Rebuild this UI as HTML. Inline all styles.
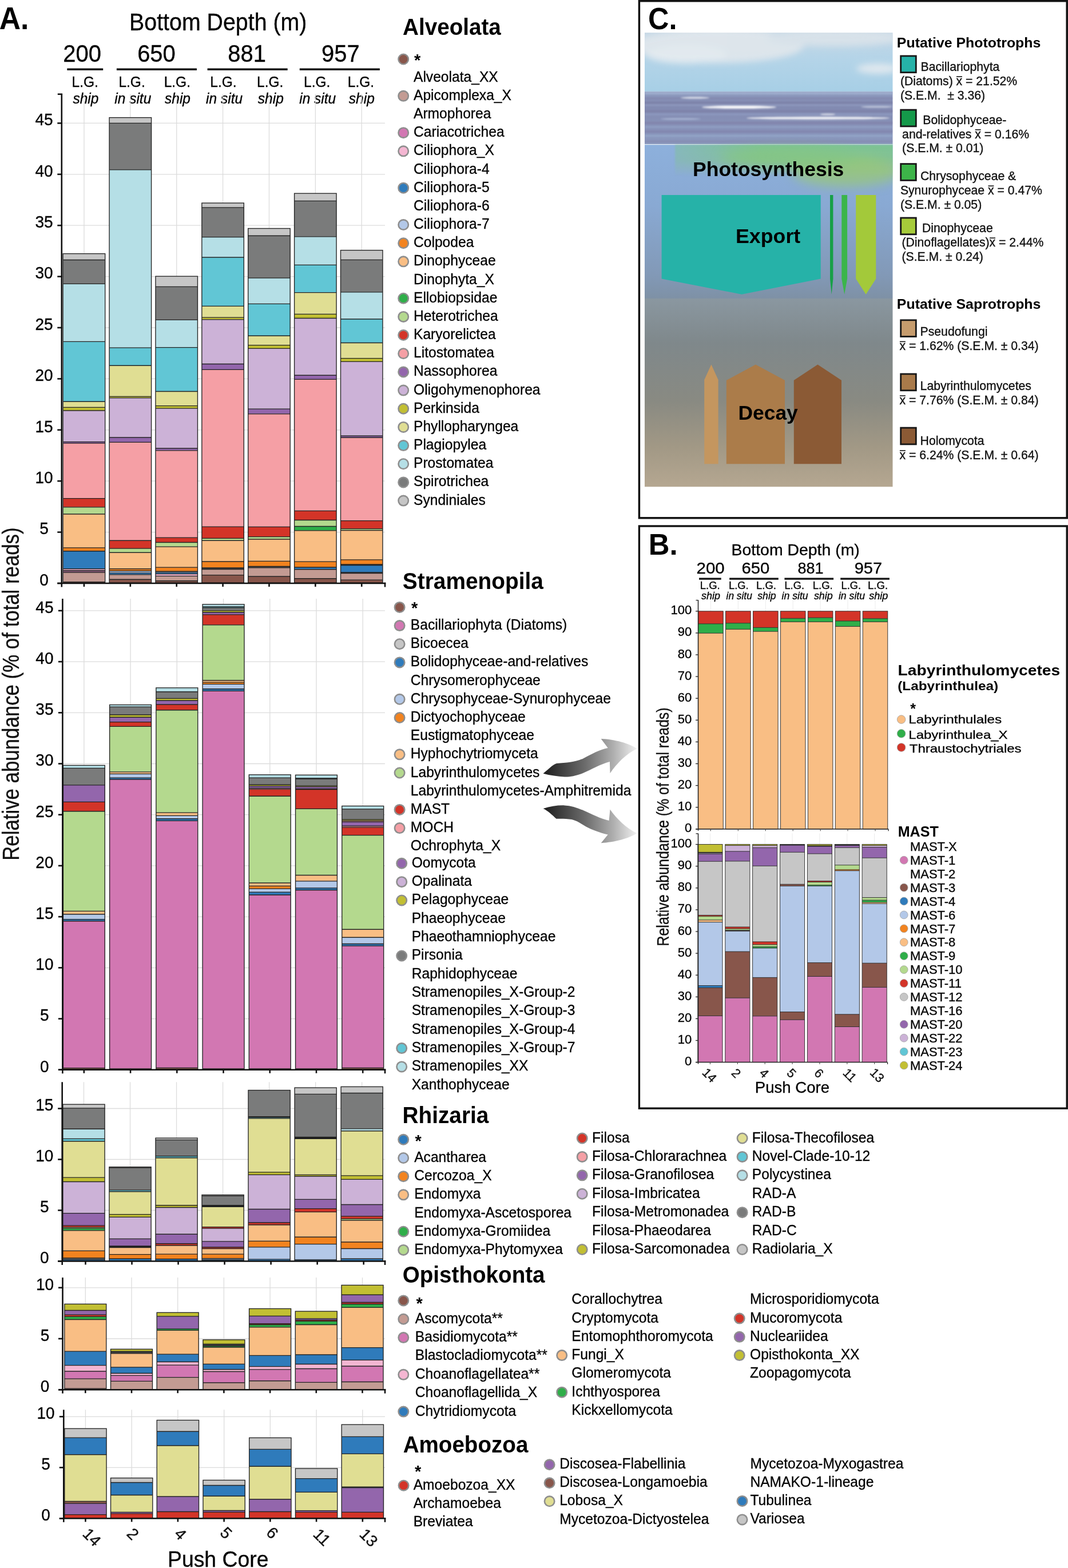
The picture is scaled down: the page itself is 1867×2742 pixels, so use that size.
<!DOCTYPE html><html><head><meta charset="utf-8"><title>Figure</title><style>html,body{margin:0;padding:0;background:#fff}svg{display:block}text{font-family:"Liberation Sans",Arial,Helvetica,sans-serif;stroke:#111;stroke-width:0.35px}text[font-weight="bold"]{stroke:none}</style></head><body><svg width="1867" height="2742" viewBox="0 0 1867 2742"><rect width="1867" height="2742" fill="#fff"/><text x="-1.29" y="50.6" font-size="55.75" font-weight="bold" textLength="51.71" lengthAdjust="spacingAndGlyphs">A.</text>
<text x="226.05" y="53.1" font-size="41.68" textLength="310.36" lengthAdjust="spacingAndGlyphs">Bottom Depth (m)</text>
<text x="143.6" y="108" font-size="41.68" text-anchor="middle" textLength="66.74" lengthAdjust="spacingAndGlyphs">200</text>
<text x="273.5" y="108" font-size="41.68" text-anchor="middle" textLength="66.74" lengthAdjust="spacingAndGlyphs">650</text>
<text x="431.7" y="108" font-size="41.68" text-anchor="middle" textLength="66.74" lengthAdjust="spacingAndGlyphs">881</text>
<text x="595.3" y="108" font-size="41.68" text-anchor="middle" textLength="66.74" lengthAdjust="spacingAndGlyphs">957</text>
<line x1="117.3" y1="121.2" x2="180.2" y2="121.2" stroke="#111" stroke-width="3.4"/>
<line x1="203.9" y1="121.2" x2="344" y2="121.2" stroke="#111" stroke-width="3.4"/>
<line x1="362.6" y1="121.2" x2="502.7" y2="121.2" stroke="#111" stroke-width="3.4"/>
<line x1="523.8" y1="121.2" x2="663.9" y2="121.2" stroke="#111" stroke-width="3.4"/>
<text x="148.7" y="152.4" font-size="25.53" text-anchor="middle" textLength="46.3" lengthAdjust="spacingAndGlyphs">L.G.</text>
<text x="230.6" y="152.4" font-size="25.53" text-anchor="middle" textLength="46.3" lengthAdjust="spacingAndGlyphs">L.G.</text>
<text x="309.8" y="152.4" font-size="25.53" text-anchor="middle" textLength="46.3" lengthAdjust="spacingAndGlyphs">L.G.</text>
<text x="390.5" y="152.4" font-size="25.53" text-anchor="middle" textLength="46.3" lengthAdjust="spacingAndGlyphs">L.G.</text>
<text x="472.2" y="152.4" font-size="25.53" text-anchor="middle" textLength="46.3" lengthAdjust="spacingAndGlyphs">L.G.</text>
<text x="554.2" y="152.4" font-size="25.53" text-anchor="middle" textLength="46.3" lengthAdjust="spacingAndGlyphs">L.G.</text>
<text x="630.9" y="152.4" font-size="25.53" text-anchor="middle" textLength="46.3" lengthAdjust="spacingAndGlyphs">L.G.</text>
<text x="149.9" y="180.8" font-size="25.53" text-anchor="middle" font-style="italic" textLength="44.95" lengthAdjust="spacingAndGlyphs">ship</text>
<text x="232.3" y="180.8" font-size="25.53" text-anchor="middle" font-style="italic" textLength="64" lengthAdjust="spacingAndGlyphs">in situ</text>
<text x="310.5" y="180.8" font-size="25.53" text-anchor="middle" font-style="italic" textLength="44.95" lengthAdjust="spacingAndGlyphs">ship</text>
<text x="392.1" y="180.8" font-size="25.53" text-anchor="middle" font-style="italic" textLength="64" lengthAdjust="spacingAndGlyphs">in situ</text>
<text x="473.3" y="180.8" font-size="25.53" text-anchor="middle" font-style="italic" textLength="44.95" lengthAdjust="spacingAndGlyphs">ship</text>
<text x="555.2" y="180.8" font-size="25.53" text-anchor="middle" font-style="italic" textLength="64" lengthAdjust="spacingAndGlyphs">in situ</text>
<text x="632.3" y="180.8" font-size="25.53" text-anchor="middle" font-style="italic" textLength="44.95" lengthAdjust="spacingAndGlyphs">ship</text>
<line x1="107.8" y1="930.6" x2="673" y2="930.6" stroke="#dcdcdc" stroke-width="1.3"/>
<line x1="107.8" y1="841.2" x2="673" y2="841.2" stroke="#dcdcdc" stroke-width="1.3"/>
<line x1="107.8" y1="751.8" x2="673" y2="751.8" stroke="#dcdcdc" stroke-width="1.3"/>
<line x1="107.8" y1="662.4" x2="673" y2="662.4" stroke="#dcdcdc" stroke-width="1.3"/>
<line x1="107.8" y1="573" x2="673" y2="573" stroke="#dcdcdc" stroke-width="1.3"/>
<line x1="107.8" y1="483.6" x2="673" y2="483.6" stroke="#dcdcdc" stroke-width="1.3"/>
<line x1="107.8" y1="394.2" x2="673" y2="394.2" stroke="#dcdcdc" stroke-width="1.3"/>
<line x1="107.8" y1="304.8" x2="673" y2="304.8" stroke="#dcdcdc" stroke-width="1.3"/>
<line x1="107.8" y1="215.4" x2="673" y2="215.4" stroke="#dcdcdc" stroke-width="1.3"/>
<line x1="146.95" y1="164.4" x2="146.95" y2="1020" stroke="#dcdcdc" stroke-width="1.3"/>
<line x1="227.83" y1="164.4" x2="227.83" y2="1020" stroke="#dcdcdc" stroke-width="1.3"/>
<line x1="308.71" y1="164.4" x2="308.71" y2="1020" stroke="#dcdcdc" stroke-width="1.3"/>
<line x1="389.59" y1="164.4" x2="389.59" y2="1020" stroke="#dcdcdc" stroke-width="1.3"/>
<line x1="470.47" y1="164.4" x2="470.47" y2="1020" stroke="#dcdcdc" stroke-width="1.3"/>
<line x1="551.35" y1="164.4" x2="551.35" y2="1020" stroke="#dcdcdc" stroke-width="1.3"/>
<line x1="632.23" y1="164.4" x2="632.23" y2="1020" stroke="#dcdcdc" stroke-width="1.3"/>
<g>
<rect x="110.2" y="443.6" width="73.5" height="10.87" fill="#c6c6c6"/>
<rect x="110.2" y="454.47" width="73.5" height="41.89" fill="#7a7b7b"/>
<rect x="110.2" y="496.36" width="73.5" height="101.04" fill="#b5dfe6"/>
<rect x="110.2" y="597.4" width="73.5" height="104.85" fill="#61c6d5"/>
<rect x="110.2" y="702.25" width="73.5" height="10.15" fill="#e0de93"/>
<rect x="110.2" y="712.4" width="73.5" height="5.59" fill="#c2bf33"/>
<rect x="110.2" y="717.99" width="73.5" height="54.58" fill="#ccb2d7"/>
<rect x="110.2" y="772.57" width="73.5" height="2.54" fill="#9366ac"/>
<rect x="110.2" y="775.11" width="73.5" height="96.47" fill="#f59fa5"/>
<rect x="110.2" y="871.58" width="73.5" height="15.23" fill="#d33428"/>
<rect x="110.2" y="886.81" width="73.5" height="12.19" fill="#b4d98e"/>
<rect x="110.2" y="899" width="73.5" height="58.9" fill="#f9be84"/>
<rect x="110.2" y="957.9" width="73.5" height="5.84" fill="#f2831f"/>
<rect x="110.2" y="963.74" width="73.5" height="30.97" fill="#2f7bbb"/>
<rect x="110.2" y="994.71" width="73.5" height="3.05" fill="#f4b6d2"/>
<rect x="110.2" y="997.76" width="73.5" height="3.3" fill="#8a5a78"/>
<rect x="110.2" y="1001.06" width="73.5" height="16.5" fill="#c39b93"/>
<rect x="110.2" y="1017.56" width="73.5" height="1.64" fill="#88564b"/>
<line x1="110.2" y1="454.47" x2="183.7" y2="454.47" stroke="#242424" stroke-width="1.35"/>
<line x1="110.2" y1="496.36" x2="183.7" y2="496.36" stroke="#242424" stroke-width="1.35"/>
<line x1="110.2" y1="597.4" x2="183.7" y2="597.4" stroke="#242424" stroke-width="1.35"/>
<line x1="110.2" y1="702.25" x2="183.7" y2="702.25" stroke="#242424" stroke-width="1.35"/>
<line x1="110.2" y1="712.4" x2="183.7" y2="712.4" stroke="#242424" stroke-width="1.35"/>
<line x1="110.2" y1="717.99" x2="183.7" y2="717.99" stroke="#242424" stroke-width="1.35"/>
<line x1="110.2" y1="772.57" x2="183.7" y2="772.57" stroke="#242424" stroke-width="1.35"/>
<line x1="110.2" y1="775.11" x2="183.7" y2="775.11" stroke="#242424" stroke-width="1.35"/>
<line x1="110.2" y1="871.58" x2="183.7" y2="871.58" stroke="#242424" stroke-width="1.35"/>
<line x1="110.2" y1="886.81" x2="183.7" y2="886.81" stroke="#242424" stroke-width="1.35"/>
<line x1="110.2" y1="899" x2="183.7" y2="899" stroke="#242424" stroke-width="1.35"/>
<line x1="110.2" y1="957.9" x2="183.7" y2="957.9" stroke="#242424" stroke-width="1.35"/>
<line x1="110.2" y1="963.74" x2="183.7" y2="963.74" stroke="#242424" stroke-width="1.35"/>
<line x1="110.2" y1="994.71" x2="183.7" y2="994.71" stroke="#242424" stroke-width="1.35"/>
<line x1="110.2" y1="997.76" x2="183.7" y2="997.76" stroke="#242424" stroke-width="1.35"/>
<line x1="110.2" y1="1001.06" x2="183.7" y2="1001.06" stroke="#242424" stroke-width="1.35"/>
<line x1="110.2" y1="1017.56" x2="183.7" y2="1017.56" stroke="#242424" stroke-width="1.35"/>
<rect x="110.2" y="443.6" width="73.5" height="575.6" fill="none" stroke="#242424" stroke-width="1.35"/>
</g>
<g>
<rect x="191.08" y="205.6" width="73.5" height="9.8" fill="#c6c6c6"/>
<rect x="191.08" y="215.4" width="73.5" height="81.5" fill="#7a7b7b"/>
<rect x="191.08" y="296.9" width="73.5" height="311.16" fill="#b5dfe6"/>
<rect x="191.08" y="608.06" width="73.5" height="31.23" fill="#61c6d5"/>
<rect x="191.08" y="639.29" width="73.5" height="54.07" fill="#e0de93"/>
<rect x="191.08" y="693.36" width="73.5" height="2.54" fill="#c2bf33"/>
<rect x="191.08" y="695.9" width="73.5" height="69.05" fill="#ccb2d7"/>
<rect x="191.08" y="764.96" width="73.5" height="8.38" fill="#9366ac"/>
<rect x="191.08" y="773.33" width="73.5" height="171.87" fill="#f59fa5"/>
<rect x="191.08" y="945.2" width="73.5" height="13.96" fill="#d33428"/>
<rect x="191.08" y="959.17" width="73.5" height="7.11" fill="#b4d98e"/>
<rect x="191.08" y="966.28" width="73.5" height="28.43" fill="#f9be84"/>
<rect x="191.08" y="994.71" width="73.5" height="3.81" fill="#f2831f"/>
<rect x="191.08" y="998.52" width="73.5" height="3.3" fill="#b3c8e8"/>
<rect x="191.08" y="1001.82" width="73.5" height="3.05" fill="#2f7bbb"/>
<rect x="191.08" y="1004.86" width="73.5" height="8.38" fill="#c39b93"/>
<rect x="191.08" y="1013.24" width="73.5" height="5.96" fill="#88564b"/>
<line x1="191.08" y1="215.4" x2="264.58" y2="215.4" stroke="#242424" stroke-width="1.35"/>
<line x1="191.08" y1="296.9" x2="264.58" y2="296.9" stroke="#242424" stroke-width="1.35"/>
<line x1="191.08" y1="608.06" x2="264.58" y2="608.06" stroke="#242424" stroke-width="1.35"/>
<line x1="191.08" y1="639.29" x2="264.58" y2="639.29" stroke="#242424" stroke-width="1.35"/>
<line x1="191.08" y1="693.36" x2="264.58" y2="693.36" stroke="#242424" stroke-width="1.35"/>
<line x1="191.08" y1="695.9" x2="264.58" y2="695.9" stroke="#242424" stroke-width="1.35"/>
<line x1="191.08" y1="764.96" x2="264.58" y2="764.96" stroke="#242424" stroke-width="1.35"/>
<line x1="191.08" y1="773.33" x2="264.58" y2="773.33" stroke="#242424" stroke-width="1.35"/>
<line x1="191.08" y1="945.2" x2="264.58" y2="945.2" stroke="#242424" stroke-width="1.35"/>
<line x1="191.08" y1="959.17" x2="264.58" y2="959.17" stroke="#242424" stroke-width="1.35"/>
<line x1="191.08" y1="966.28" x2="264.58" y2="966.28" stroke="#242424" stroke-width="1.35"/>
<line x1="191.08" y1="994.71" x2="264.58" y2="994.71" stroke="#242424" stroke-width="1.35"/>
<line x1="191.08" y1="998.52" x2="264.58" y2="998.52" stroke="#242424" stroke-width="1.35"/>
<line x1="191.08" y1="1001.82" x2="264.58" y2="1001.82" stroke="#242424" stroke-width="1.35"/>
<line x1="191.08" y1="1004.86" x2="264.58" y2="1004.86" stroke="#242424" stroke-width="1.35"/>
<line x1="191.08" y1="1013.24" x2="264.58" y2="1013.24" stroke="#242424" stroke-width="1.35"/>
<rect x="191.08" y="205.6" width="73.5" height="813.6" fill="none" stroke="#242424" stroke-width="1.35"/>
</g>
<g>
<rect x="271.96" y="483.16" width="73.5" height="18.28" fill="#c6c6c6"/>
<rect x="271.96" y="501.44" width="73.5" height="57.88" fill="#7a7b7b"/>
<rect x="271.96" y="559.32" width="73.5" height="48.24" fill="#b5dfe6"/>
<rect x="271.96" y="607.56" width="73.5" height="76.92" fill="#61c6d5"/>
<rect x="271.96" y="684.48" width="73.5" height="25.13" fill="#e0de93"/>
<rect x="271.96" y="709.61" width="73.5" height="4.57" fill="#c2bf33"/>
<rect x="271.96" y="714.18" width="73.5" height="69.81" fill="#ccb2d7"/>
<rect x="271.96" y="784" width="73.5" height="3.81" fill="#9366ac"/>
<rect x="271.96" y="787.8" width="73.5" height="152.32" fill="#f59fa5"/>
<rect x="271.96" y="940.13" width="73.5" height="8.38" fill="#d33428"/>
<rect x="271.96" y="948.5" width="73.5" height="7.62" fill="#b4d98e"/>
<rect x="271.96" y="956.12" width="73.5" height="36.05" fill="#f9be84"/>
<rect x="271.96" y="992.17" width="73.5" height="7.11" fill="#f2831f"/>
<rect x="271.96" y="999.28" width="73.5" height="1.78" fill="#b3c8e8"/>
<rect x="271.96" y="1001.06" width="73.5" height="2.54" fill="#2f7bbb"/>
<rect x="271.96" y="1003.59" width="73.5" height="3.81" fill="#f4b6d2"/>
<rect x="271.96" y="1007.4" width="73.5" height="8.38" fill="#c39b93"/>
<rect x="271.96" y="1015.78" width="73.5" height="3.42" fill="#88564b"/>
<line x1="271.96" y1="501.44" x2="345.46" y2="501.44" stroke="#242424" stroke-width="1.35"/>
<line x1="271.96" y1="559.32" x2="345.46" y2="559.32" stroke="#242424" stroke-width="1.35"/>
<line x1="271.96" y1="607.56" x2="345.46" y2="607.56" stroke="#242424" stroke-width="1.35"/>
<line x1="271.96" y1="684.48" x2="345.46" y2="684.48" stroke="#242424" stroke-width="1.35"/>
<line x1="271.96" y1="709.61" x2="345.46" y2="709.61" stroke="#242424" stroke-width="1.35"/>
<line x1="271.96" y1="714.18" x2="345.46" y2="714.18" stroke="#242424" stroke-width="1.35"/>
<line x1="271.96" y1="784" x2="345.46" y2="784" stroke="#242424" stroke-width="1.35"/>
<line x1="271.96" y1="787.8" x2="345.46" y2="787.8" stroke="#242424" stroke-width="1.35"/>
<line x1="271.96" y1="940.13" x2="345.46" y2="940.13" stroke="#242424" stroke-width="1.35"/>
<line x1="271.96" y1="948.5" x2="345.46" y2="948.5" stroke="#242424" stroke-width="1.35"/>
<line x1="271.96" y1="956.12" x2="345.46" y2="956.12" stroke="#242424" stroke-width="1.35"/>
<line x1="271.96" y1="992.17" x2="345.46" y2="992.17" stroke="#242424" stroke-width="1.35"/>
<line x1="271.96" y1="999.28" x2="345.46" y2="999.28" stroke="#242424" stroke-width="1.35"/>
<line x1="271.96" y1="1001.06" x2="345.46" y2="1001.06" stroke="#242424" stroke-width="1.35"/>
<line x1="271.96" y1="1003.59" x2="345.46" y2="1003.59" stroke="#242424" stroke-width="1.35"/>
<line x1="271.96" y1="1007.4" x2="345.46" y2="1007.4" stroke="#242424" stroke-width="1.35"/>
<line x1="271.96" y1="1015.78" x2="345.46" y2="1015.78" stroke="#242424" stroke-width="1.35"/>
<rect x="271.96" y="483.16" width="73.5" height="536.04" fill="none" stroke="#242424" stroke-width="1.35"/>
</g>
<g>
<rect x="352.84" y="355" width="73.5" height="7.9" fill="#c6c6c6"/>
<rect x="352.84" y="362.9" width="73.5" height="51.7" fill="#7a7b7b"/>
<rect x="352.84" y="414.6" width="73.5" height="35.4" fill="#b5dfe6"/>
<rect x="352.84" y="450" width="73.5" height="85.4" fill="#61c6d5"/>
<rect x="352.84" y="535.4" width="73.5" height="19.7" fill="#e0de93"/>
<rect x="352.84" y="555.1" width="73.5" height="3.7" fill="#c2bf33"/>
<rect x="352.84" y="558.8" width="73.5" height="77.7" fill="#ccb2d7"/>
<rect x="352.84" y="636.5" width="73.5" height="9.8" fill="#9366ac"/>
<rect x="352.84" y="646.3" width="73.5" height="274.8" fill="#f59fa5"/>
<rect x="352.84" y="921.1" width="73.5" height="20.3" fill="#d33428"/>
<rect x="352.84" y="941.4" width="73.5" height="3.8" fill="#b4d98e"/>
<rect x="352.84" y="945.2" width="73.5" height="36.8" fill="#f9be84"/>
<rect x="352.84" y="982" width="73.5" height="10.9" fill="#f2831f"/>
<rect x="352.84" y="992.9" width="73.5" height="2.6" fill="#3a3a3a"/>
<rect x="352.84" y="995.5" width="73.5" height="10.1" fill="#c39b93"/>
<rect x="352.84" y="1005.6" width="73.5" height="13.6" fill="#88564b"/>
<line x1="352.84" y1="362.9" x2="426.34" y2="362.9" stroke="#242424" stroke-width="1.35"/>
<line x1="352.84" y1="414.6" x2="426.34" y2="414.6" stroke="#242424" stroke-width="1.35"/>
<line x1="352.84" y1="450" x2="426.34" y2="450" stroke="#242424" stroke-width="1.35"/>
<line x1="352.84" y1="535.4" x2="426.34" y2="535.4" stroke="#242424" stroke-width="1.35"/>
<line x1="352.84" y1="555.1" x2="426.34" y2="555.1" stroke="#242424" stroke-width="1.35"/>
<line x1="352.84" y1="558.8" x2="426.34" y2="558.8" stroke="#242424" stroke-width="1.35"/>
<line x1="352.84" y1="636.5" x2="426.34" y2="636.5" stroke="#242424" stroke-width="1.35"/>
<line x1="352.84" y1="646.3" x2="426.34" y2="646.3" stroke="#242424" stroke-width="1.35"/>
<line x1="352.84" y1="921.1" x2="426.34" y2="921.1" stroke="#242424" stroke-width="1.35"/>
<line x1="352.84" y1="941.4" x2="426.34" y2="941.4" stroke="#242424" stroke-width="1.35"/>
<line x1="352.84" y1="945.2" x2="426.34" y2="945.2" stroke="#242424" stroke-width="1.35"/>
<line x1="352.84" y1="982" x2="426.34" y2="982" stroke="#242424" stroke-width="1.35"/>
<line x1="352.84" y1="992.9" x2="426.34" y2="992.9" stroke="#242424" stroke-width="1.35"/>
<line x1="352.84" y1="995.5" x2="426.34" y2="995.5" stroke="#242424" stroke-width="1.35"/>
<line x1="352.84" y1="1005.6" x2="426.34" y2="1005.6" stroke="#242424" stroke-width="1.35"/>
<rect x="352.84" y="355" width="73.5" height="664.2" fill="none" stroke="#242424" stroke-width="1.35"/>
</g>
<g>
<rect x="433.72" y="399.5" width="73.5" height="12.7" fill="#c6c6c6"/>
<rect x="433.72" y="412.2" width="73.5" height="73.9" fill="#7a7b7b"/>
<rect x="433.72" y="486.1" width="73.5" height="45.2" fill="#b5dfe6"/>
<rect x="433.72" y="531.3" width="73.5" height="55.9" fill="#61c6d5"/>
<rect x="433.72" y="587.2" width="73.5" height="16.4" fill="#e0de93"/>
<rect x="433.72" y="603.6" width="73.5" height="5.8" fill="#c2bf33"/>
<rect x="433.72" y="609.4" width="73.5" height="105.7" fill="#ccb2d7"/>
<rect x="433.72" y="715.1" width="73.5" height="8.7" fill="#9366ac"/>
<rect x="433.72" y="723.8" width="73.5" height="197.5" fill="#f59fa5"/>
<rect x="433.72" y="921.3" width="73.5" height="17.3" fill="#d33428"/>
<rect x="433.72" y="938.6" width="73.5" height="4.4" fill="#b4d98e"/>
<rect x="433.72" y="943" width="73.5" height="38.3" fill="#f9be84"/>
<rect x="433.72" y="981.3" width="73.5" height="9" fill="#f2831f"/>
<rect x="433.72" y="990.3" width="73.5" height="2.5" fill="#3a3a3a"/>
<rect x="433.72" y="992.8" width="73.5" height="15.2" fill="#c39b93"/>
<rect x="433.72" y="1008" width="73.5" height="11.2" fill="#88564b"/>
<line x1="433.72" y1="412.2" x2="507.22" y2="412.2" stroke="#242424" stroke-width="1.35"/>
<line x1="433.72" y1="486.1" x2="507.22" y2="486.1" stroke="#242424" stroke-width="1.35"/>
<line x1="433.72" y1="531.3" x2="507.22" y2="531.3" stroke="#242424" stroke-width="1.35"/>
<line x1="433.72" y1="587.2" x2="507.22" y2="587.2" stroke="#242424" stroke-width="1.35"/>
<line x1="433.72" y1="603.6" x2="507.22" y2="603.6" stroke="#242424" stroke-width="1.35"/>
<line x1="433.72" y1="609.4" x2="507.22" y2="609.4" stroke="#242424" stroke-width="1.35"/>
<line x1="433.72" y1="715.1" x2="507.22" y2="715.1" stroke="#242424" stroke-width="1.35"/>
<line x1="433.72" y1="723.8" x2="507.22" y2="723.8" stroke="#242424" stroke-width="1.35"/>
<line x1="433.72" y1="921.3" x2="507.22" y2="921.3" stroke="#242424" stroke-width="1.35"/>
<line x1="433.72" y1="938.6" x2="507.22" y2="938.6" stroke="#242424" stroke-width="1.35"/>
<line x1="433.72" y1="943" x2="507.22" y2="943" stroke="#242424" stroke-width="1.35"/>
<line x1="433.72" y1="981.3" x2="507.22" y2="981.3" stroke="#242424" stroke-width="1.35"/>
<line x1="433.72" y1="990.3" x2="507.22" y2="990.3" stroke="#242424" stroke-width="1.35"/>
<line x1="433.72" y1="992.8" x2="507.22" y2="992.8" stroke="#242424" stroke-width="1.35"/>
<line x1="433.72" y1="1008" x2="507.22" y2="1008" stroke="#242424" stroke-width="1.35"/>
<rect x="433.72" y="399.5" width="73.5" height="619.7" fill="none" stroke="#242424" stroke-width="1.35"/>
</g>
<g>
<rect x="514.6" y="338.2" width="73.5" height="13.2" fill="#c6c6c6"/>
<rect x="514.6" y="351.4" width="73.5" height="62.4" fill="#7a7b7b"/>
<rect x="514.6" y="413.8" width="73.5" height="49.6" fill="#b5dfe6"/>
<rect x="514.6" y="463.4" width="73.5" height="48.2" fill="#61c6d5"/>
<rect x="514.6" y="511.6" width="73.5" height="37.8" fill="#e0de93"/>
<rect x="514.6" y="549.4" width="73.5" height="7.1" fill="#c2bf33"/>
<rect x="514.6" y="556.5" width="73.5" height="99.7" fill="#ccb2d7"/>
<rect x="514.6" y="656.2" width="73.5" height="7.1" fill="#9366ac"/>
<rect x="514.6" y="663.3" width="73.5" height="230.1" fill="#f59fa5"/>
<rect x="514.6" y="893.4" width="73.5" height="16.1" fill="#d33428"/>
<rect x="514.6" y="909.5" width="73.5" height="11" fill="#b4d98e"/>
<rect x="514.6" y="920.5" width="73.5" height="7.4" fill="#2fae49"/>
<rect x="514.6" y="927.9" width="73.5" height="54.2" fill="#f9be84"/>
<rect x="514.6" y="982.1" width="73.5" height="9.9" fill="#f2831f"/>
<rect x="514.6" y="992" width="73.5" height="3.7" fill="#2f7bbb"/>
<rect x="514.6" y="995.7" width="73.5" height="16" fill="#c39b93"/>
<rect x="514.6" y="1011.7" width="73.5" height="7.5" fill="#88564b"/>
<line x1="514.6" y1="351.4" x2="588.1" y2="351.4" stroke="#242424" stroke-width="1.35"/>
<line x1="514.6" y1="413.8" x2="588.1" y2="413.8" stroke="#242424" stroke-width="1.35"/>
<line x1="514.6" y1="463.4" x2="588.1" y2="463.4" stroke="#242424" stroke-width="1.35"/>
<line x1="514.6" y1="511.6" x2="588.1" y2="511.6" stroke="#242424" stroke-width="1.35"/>
<line x1="514.6" y1="549.4" x2="588.1" y2="549.4" stroke="#242424" stroke-width="1.35"/>
<line x1="514.6" y1="556.5" x2="588.1" y2="556.5" stroke="#242424" stroke-width="1.35"/>
<line x1="514.6" y1="656.2" x2="588.1" y2="656.2" stroke="#242424" stroke-width="1.35"/>
<line x1="514.6" y1="663.3" x2="588.1" y2="663.3" stroke="#242424" stroke-width="1.35"/>
<line x1="514.6" y1="893.4" x2="588.1" y2="893.4" stroke="#242424" stroke-width="1.35"/>
<line x1="514.6" y1="909.5" x2="588.1" y2="909.5" stroke="#242424" stroke-width="1.35"/>
<line x1="514.6" y1="920.5" x2="588.1" y2="920.5" stroke="#242424" stroke-width="1.35"/>
<line x1="514.6" y1="927.9" x2="588.1" y2="927.9" stroke="#242424" stroke-width="1.35"/>
<line x1="514.6" y1="982.1" x2="588.1" y2="982.1" stroke="#242424" stroke-width="1.35"/>
<line x1="514.6" y1="992" x2="588.1" y2="992" stroke="#242424" stroke-width="1.35"/>
<line x1="514.6" y1="995.7" x2="588.1" y2="995.7" stroke="#242424" stroke-width="1.35"/>
<line x1="514.6" y1="1011.7" x2="588.1" y2="1011.7" stroke="#242424" stroke-width="1.35"/>
<rect x="514.6" y="338.2" width="73.5" height="681" fill="none" stroke="#242424" stroke-width="1.35"/>
</g>
<g>
<rect x="595.48" y="437.6" width="73.5" height="16.8" fill="#c6c6c6"/>
<rect x="595.48" y="454.4" width="73.5" height="56.4" fill="#7a7b7b"/>
<rect x="595.48" y="510.8" width="73.5" height="47.2" fill="#b5dfe6"/>
<rect x="595.48" y="558" width="73.5" height="41.5" fill="#61c6d5"/>
<rect x="595.48" y="599.5" width="73.5" height="27.1" fill="#e0de93"/>
<rect x="595.48" y="626.6" width="73.5" height="5.8" fill="#c2bf33"/>
<rect x="595.48" y="632.4" width="73.5" height="129.8" fill="#ccb2d7"/>
<rect x="595.48" y="762.2" width="73.5" height="3" fill="#9366ac"/>
<rect x="595.48" y="765.2" width="73.5" height="145.4" fill="#f59fa5"/>
<rect x="595.48" y="910.6" width="73.5" height="14" fill="#d33428"/>
<rect x="595.48" y="924.6" width="73.5" height="2.9" fill="#b4d98e"/>
<rect x="595.48" y="927.5" width="73.5" height="51.3" fill="#f9be84"/>
<rect x="595.48" y="978.8" width="73.5" height="8.2" fill="#f2831f"/>
<rect x="595.48" y="987" width="73.5" height="1.6" fill="#3a3a3a"/>
<rect x="595.48" y="988.6" width="73.5" height="12.4" fill="#2f7bbb"/>
<rect x="595.48" y="1001" width="73.5" height="1.6" fill="#3a3a3a"/>
<rect x="595.48" y="1002.6" width="73.5" height="11.5" fill="#c39b93"/>
<rect x="595.48" y="1014.1" width="73.5" height="5.1" fill="#88564b"/>
<line x1="595.48" y1="454.4" x2="668.98" y2="454.4" stroke="#242424" stroke-width="1.35"/>
<line x1="595.48" y1="510.8" x2="668.98" y2="510.8" stroke="#242424" stroke-width="1.35"/>
<line x1="595.48" y1="558" x2="668.98" y2="558" stroke="#242424" stroke-width="1.35"/>
<line x1="595.48" y1="599.5" x2="668.98" y2="599.5" stroke="#242424" stroke-width="1.35"/>
<line x1="595.48" y1="626.6" x2="668.98" y2="626.6" stroke="#242424" stroke-width="1.35"/>
<line x1="595.48" y1="632.4" x2="668.98" y2="632.4" stroke="#242424" stroke-width="1.35"/>
<line x1="595.48" y1="762.2" x2="668.98" y2="762.2" stroke="#242424" stroke-width="1.35"/>
<line x1="595.48" y1="765.2" x2="668.98" y2="765.2" stroke="#242424" stroke-width="1.35"/>
<line x1="595.48" y1="910.6" x2="668.98" y2="910.6" stroke="#242424" stroke-width="1.35"/>
<line x1="595.48" y1="924.6" x2="668.98" y2="924.6" stroke="#242424" stroke-width="1.35"/>
<line x1="595.48" y1="927.5" x2="668.98" y2="927.5" stroke="#242424" stroke-width="1.35"/>
<line x1="595.48" y1="978.8" x2="668.98" y2="978.8" stroke="#242424" stroke-width="1.35"/>
<line x1="595.48" y1="987" x2="668.98" y2="987" stroke="#242424" stroke-width="1.35"/>
<line x1="595.48" y1="988.6" x2="668.98" y2="988.6" stroke="#242424" stroke-width="1.35"/>
<line x1="595.48" y1="1001" x2="668.98" y2="1001" stroke="#242424" stroke-width="1.35"/>
<line x1="595.48" y1="1002.6" x2="668.98" y2="1002.6" stroke="#242424" stroke-width="1.35"/>
<line x1="595.48" y1="1014.1" x2="668.98" y2="1014.1" stroke="#242424" stroke-width="1.35"/>
<rect x="595.48" y="437.6" width="73.5" height="581.6" fill="none" stroke="#242424" stroke-width="1.35"/>
</g>
<line x1="107.8" y1="164.4" x2="107.8" y2="1026.5" stroke="#111" stroke-width="2.6"/>
<line x1="100.8" y1="164.7" x2="109.1" y2="164.7" stroke="#111" stroke-width="2.6"/>
<line x1="100.3" y1="1020" x2="674.3" y2="1020" stroke="#111" stroke-width="2.6"/>
<line x1="673" y1="1018.7" x2="673" y2="1026.5" stroke="#111" stroke-width="2.6"/>
<line x1="146.95" y1="1020" x2="146.95" y2="1026" stroke="#111" stroke-width="2.6"/>
<line x1="227.83" y1="1020" x2="227.83" y2="1026" stroke="#111" stroke-width="2.6"/>
<line x1="308.71" y1="1020" x2="308.71" y2="1026" stroke="#111" stroke-width="2.6"/>
<line x1="389.59" y1="1020" x2="389.59" y2="1026" stroke="#111" stroke-width="2.6"/>
<line x1="470.47" y1="1020" x2="470.47" y2="1026" stroke="#111" stroke-width="2.6"/>
<line x1="551.35" y1="1020" x2="551.35" y2="1026" stroke="#111" stroke-width="2.6"/>
<line x1="632.23" y1="1020" x2="632.23" y2="1026" stroke="#111" stroke-width="2.6"/>
<line x1="100.3" y1="1020" x2="107.8" y2="1020" stroke="#111" stroke-width="2.6"/>
<text x="77" y="1023.8" font-size="29.18" text-anchor="middle" textLength="15.57" lengthAdjust="spacingAndGlyphs">0</text>
<line x1="100.3" y1="930.6" x2="107.8" y2="930.6" stroke="#111" stroke-width="2.6"/>
<text x="77" y="934.4" font-size="29.18" text-anchor="middle" textLength="15.57" lengthAdjust="spacingAndGlyphs">5</text>
<line x1="100.3" y1="841.2" x2="107.8" y2="841.2" stroke="#111" stroke-width="2.6"/>
<text x="77" y="845" font-size="29.18" text-anchor="middle" textLength="31.15" lengthAdjust="spacingAndGlyphs">10</text>
<line x1="100.3" y1="751.8" x2="107.8" y2="751.8" stroke="#111" stroke-width="2.6"/>
<text x="77" y="755.6" font-size="29.18" text-anchor="middle" textLength="31.15" lengthAdjust="spacingAndGlyphs">15</text>
<line x1="100.3" y1="662.4" x2="107.8" y2="662.4" stroke="#111" stroke-width="2.6"/>
<text x="77" y="666.2" font-size="29.18" text-anchor="middle" textLength="31.15" lengthAdjust="spacingAndGlyphs">20</text>
<line x1="100.3" y1="573" x2="107.8" y2="573" stroke="#111" stroke-width="2.6"/>
<text x="77" y="576.8" font-size="29.18" text-anchor="middle" textLength="31.15" lengthAdjust="spacingAndGlyphs">25</text>
<line x1="100.3" y1="483.6" x2="107.8" y2="483.6" stroke="#111" stroke-width="2.6"/>
<text x="77" y="487.4" font-size="29.18" text-anchor="middle" textLength="31.15" lengthAdjust="spacingAndGlyphs">30</text>
<line x1="100.3" y1="394.2" x2="107.8" y2="394.2" stroke="#111" stroke-width="2.6"/>
<text x="77" y="398" font-size="29.18" text-anchor="middle" textLength="31.15" lengthAdjust="spacingAndGlyphs">35</text>
<line x1="100.3" y1="304.8" x2="107.8" y2="304.8" stroke="#111" stroke-width="2.6"/>
<text x="77" y="308.6" font-size="29.18" text-anchor="middle" textLength="31.15" lengthAdjust="spacingAndGlyphs">40</text>
<line x1="100.3" y1="215.4" x2="107.8" y2="215.4" stroke="#111" stroke-width="2.6"/>
<text x="77" y="219.2" font-size="29.18" text-anchor="middle" textLength="31.15" lengthAdjust="spacingAndGlyphs">45</text>
<line x1="109.4" y1="1781.5" x2="673" y2="1781.5" stroke="#dcdcdc" stroke-width="1.3"/>
<line x1="109.4" y1="1692.3" x2="673" y2="1692.3" stroke="#dcdcdc" stroke-width="1.3"/>
<line x1="109.4" y1="1603.1" x2="673" y2="1603.1" stroke="#dcdcdc" stroke-width="1.3"/>
<line x1="109.4" y1="1513.9" x2="673" y2="1513.9" stroke="#dcdcdc" stroke-width="1.3"/>
<line x1="109.4" y1="1424.7" x2="673" y2="1424.7" stroke="#dcdcdc" stroke-width="1.3"/>
<line x1="109.4" y1="1335.5" x2="673" y2="1335.5" stroke="#dcdcdc" stroke-width="1.3"/>
<line x1="109.4" y1="1246.3" x2="673" y2="1246.3" stroke="#dcdcdc" stroke-width="1.3"/>
<line x1="109.4" y1="1157.1" x2="673" y2="1157.1" stroke="#dcdcdc" stroke-width="1.3"/>
<line x1="109.4" y1="1067.9" x2="673" y2="1067.9" stroke="#dcdcdc" stroke-width="1.3"/>
<line x1="146.85" y1="1046.9" x2="146.85" y2="1870.7" stroke="#dcdcdc" stroke-width="1.3"/>
<line x1="228.08" y1="1046.9" x2="228.08" y2="1870.7" stroke="#dcdcdc" stroke-width="1.3"/>
<line x1="309.31" y1="1046.9" x2="309.31" y2="1870.7" stroke="#dcdcdc" stroke-width="1.3"/>
<line x1="390.54" y1="1046.9" x2="390.54" y2="1870.7" stroke="#dcdcdc" stroke-width="1.3"/>
<line x1="471.77" y1="1046.9" x2="471.77" y2="1870.7" stroke="#dcdcdc" stroke-width="1.3"/>
<line x1="553" y1="1046.9" x2="553" y2="1870.7" stroke="#dcdcdc" stroke-width="1.3"/>
<line x1="634.23" y1="1046.9" x2="634.23" y2="1870.7" stroke="#dcdcdc" stroke-width="1.3"/>
<g>
<rect x="110.4" y="1338.4" width="72.9" height="4.9" fill="#b5dfe6"/>
<rect x="110.4" y="1343.3" width="72.9" height="29.6" fill="#7a7b7b"/>
<rect x="110.4" y="1372.9" width="72.9" height="29.4" fill="#9366ac"/>
<rect x="110.4" y="1402.3" width="72.9" height="16.4" fill="#d33428"/>
<rect x="110.4" y="1418.7" width="72.9" height="174.7" fill="#b4d98e"/>
<rect x="110.4" y="1593.4" width="72.9" height="5.3" fill="#f9be84"/>
<rect x="110.4" y="1598.7" width="72.9" height="8.9" fill="#b3c8e8"/>
<rect x="110.4" y="1607.6" width="72.9" height="3.1" fill="#2f7bbb"/>
<rect x="110.4" y="1610.7" width="72.9" height="256.9" fill="#d277b2"/>
<rect x="110.4" y="1867.6" width="72.9" height="2.4" fill="#88564b"/>
<line x1="110.4" y1="1343.3" x2="183.3" y2="1343.3" stroke="#242424" stroke-width="1.35"/>
<line x1="110.4" y1="1372.9" x2="183.3" y2="1372.9" stroke="#242424" stroke-width="1.35"/>
<line x1="110.4" y1="1402.3" x2="183.3" y2="1402.3" stroke="#242424" stroke-width="1.35"/>
<line x1="110.4" y1="1418.7" x2="183.3" y2="1418.7" stroke="#242424" stroke-width="1.35"/>
<line x1="110.4" y1="1593.4" x2="183.3" y2="1593.4" stroke="#242424" stroke-width="1.35"/>
<line x1="110.4" y1="1598.7" x2="183.3" y2="1598.7" stroke="#242424" stroke-width="1.35"/>
<line x1="110.4" y1="1607.6" x2="183.3" y2="1607.6" stroke="#242424" stroke-width="1.35"/>
<line x1="110.4" y1="1610.7" x2="183.3" y2="1610.7" stroke="#242424" stroke-width="1.35"/>
<line x1="110.4" y1="1867.6" x2="183.3" y2="1867.6" stroke="#242424" stroke-width="1.35"/>
<rect x="110.4" y="1338.4" width="72.9" height="531.6" fill="none" stroke="#242424" stroke-width="1.35"/>
</g>
<g>
<rect x="191.63" y="1232.5" width="72.9" height="3.6" fill="#b5dfe6"/>
<rect x="191.63" y="1236.1" width="72.9" height="13.9" fill="#7a7b7b"/>
<rect x="191.63" y="1250" width="72.9" height="4.2" fill="#c2bf33"/>
<rect x="191.63" y="1254.2" width="72.9" height="8.4" fill="#9366ac"/>
<rect x="191.63" y="1262.6" width="72.9" height="7.8" fill="#d33428"/>
<rect x="191.63" y="1270.4" width="72.9" height="79.4" fill="#b4d98e"/>
<rect x="191.63" y="1349.8" width="72.9" height="3.6" fill="#f9be84"/>
<rect x="191.63" y="1353.4" width="72.9" height="6.7" fill="#b3c8e8"/>
<rect x="191.63" y="1360.1" width="72.9" height="2.9" fill="#2f7bbb"/>
<rect x="191.63" y="1363" width="72.9" height="505.8" fill="#d277b2"/>
<rect x="191.63" y="1868.8" width="72.9" height="1.2" fill="#88564b"/>
<line x1="191.63" y1="1236.1" x2="264.53" y2="1236.1" stroke="#242424" stroke-width="1.35"/>
<line x1="191.63" y1="1250" x2="264.53" y2="1250" stroke="#242424" stroke-width="1.35"/>
<line x1="191.63" y1="1254.2" x2="264.53" y2="1254.2" stroke="#242424" stroke-width="1.35"/>
<line x1="191.63" y1="1262.6" x2="264.53" y2="1262.6" stroke="#242424" stroke-width="1.35"/>
<line x1="191.63" y1="1270.4" x2="264.53" y2="1270.4" stroke="#242424" stroke-width="1.35"/>
<line x1="191.63" y1="1349.8" x2="264.53" y2="1349.8" stroke="#242424" stroke-width="1.35"/>
<line x1="191.63" y1="1353.4" x2="264.53" y2="1353.4" stroke="#242424" stroke-width="1.35"/>
<line x1="191.63" y1="1360.1" x2="264.53" y2="1360.1" stroke="#242424" stroke-width="1.35"/>
<line x1="191.63" y1="1363" x2="264.53" y2="1363" stroke="#242424" stroke-width="1.35"/>
<line x1="191.63" y1="1868.8" x2="264.53" y2="1868.8" stroke="#242424" stroke-width="1.35"/>
<rect x="191.63" y="1232.5" width="72.9" height="637.5" fill="none" stroke="#242424" stroke-width="1.35"/>
</g>
<g>
<rect x="272.86" y="1202.8" width="72.9" height="6.9" fill="#b5dfe6"/>
<rect x="272.86" y="1209.7" width="72.9" height="11.7" fill="#7a7b7b"/>
<rect x="272.86" y="1221.4" width="72.9" height="3.6" fill="#c2bf33"/>
<rect x="272.86" y="1225" width="72.9" height="7" fill="#9366ac"/>
<rect x="272.86" y="1232" width="72.9" height="9.7" fill="#d33428"/>
<rect x="272.86" y="1241.7" width="72.9" height="179.4" fill="#b4d98e"/>
<rect x="272.86" y="1421.1" width="72.9" height="5.3" fill="#f9be84"/>
<rect x="272.86" y="1426.4" width="72.9" height="5.3" fill="#b3c8e8"/>
<rect x="272.86" y="1431.7" width="72.9" height="3.6" fill="#2f7bbb"/>
<rect x="272.86" y="1435.3" width="72.9" height="432" fill="#d277b2"/>
<rect x="272.86" y="1867.3" width="72.9" height="2.7" fill="#88564b"/>
<line x1="272.86" y1="1209.7" x2="345.76" y2="1209.7" stroke="#242424" stroke-width="1.35"/>
<line x1="272.86" y1="1221.4" x2="345.76" y2="1221.4" stroke="#242424" stroke-width="1.35"/>
<line x1="272.86" y1="1225" x2="345.76" y2="1225" stroke="#242424" stroke-width="1.35"/>
<line x1="272.86" y1="1232" x2="345.76" y2="1232" stroke="#242424" stroke-width="1.35"/>
<line x1="272.86" y1="1241.7" x2="345.76" y2="1241.7" stroke="#242424" stroke-width="1.35"/>
<line x1="272.86" y1="1421.1" x2="345.76" y2="1421.1" stroke="#242424" stroke-width="1.35"/>
<line x1="272.86" y1="1426.4" x2="345.76" y2="1426.4" stroke="#242424" stroke-width="1.35"/>
<line x1="272.86" y1="1431.7" x2="345.76" y2="1431.7" stroke="#242424" stroke-width="1.35"/>
<line x1="272.86" y1="1435.3" x2="345.76" y2="1435.3" stroke="#242424" stroke-width="1.35"/>
<line x1="272.86" y1="1867.3" x2="345.76" y2="1867.3" stroke="#242424" stroke-width="1.35"/>
<rect x="272.86" y="1202.8" width="72.9" height="667.2" fill="none" stroke="#242424" stroke-width="1.35"/>
</g>
<g>
<rect x="354.09" y="1056.8" width="72.9" height="4.2" fill="#b5dfe6"/>
<rect x="354.09" y="1061" width="72.9" height="1.9" fill="#61c6d5"/>
<rect x="354.09" y="1062.9" width="72.9" height="5" fill="#7a7b7b"/>
<rect x="354.09" y="1067.9" width="72.9" height="2.8" fill="#c2bf33"/>
<rect x="354.09" y="1070.7" width="72.9" height="4.1" fill="#9366ac"/>
<rect x="354.09" y="1074.8" width="72.9" height="18.1" fill="#d33428"/>
<rect x="354.09" y="1092.9" width="72.9" height="96.8" fill="#b4d98e"/>
<rect x="354.09" y="1189.7" width="72.9" height="3.4" fill="#f9be84"/>
<rect x="354.09" y="1193.1" width="72.9" height="3.3" fill="#f2831f"/>
<rect x="354.09" y="1196.4" width="72.9" height="8.3" fill="#b3c8e8"/>
<rect x="354.09" y="1204.7" width="72.9" height="3.6" fill="#2f7bbb"/>
<rect x="354.09" y="1208.3" width="72.9" height="660.5" fill="#d277b2"/>
<rect x="354.09" y="1868.8" width="72.9" height="1.2" fill="#88564b"/>
<line x1="354.09" y1="1061" x2="426.99" y2="1061" stroke="#242424" stroke-width="1.35"/>
<line x1="354.09" y1="1062.9" x2="426.99" y2="1062.9" stroke="#242424" stroke-width="1.35"/>
<line x1="354.09" y1="1067.9" x2="426.99" y2="1067.9" stroke="#242424" stroke-width="1.35"/>
<line x1="354.09" y1="1070.7" x2="426.99" y2="1070.7" stroke="#242424" stroke-width="1.35"/>
<line x1="354.09" y1="1074.8" x2="426.99" y2="1074.8" stroke="#242424" stroke-width="1.35"/>
<line x1="354.09" y1="1092.9" x2="426.99" y2="1092.9" stroke="#242424" stroke-width="1.35"/>
<line x1="354.09" y1="1189.7" x2="426.99" y2="1189.7" stroke="#242424" stroke-width="1.35"/>
<line x1="354.09" y1="1193.1" x2="426.99" y2="1193.1" stroke="#242424" stroke-width="1.35"/>
<line x1="354.09" y1="1196.4" x2="426.99" y2="1196.4" stroke="#242424" stroke-width="1.35"/>
<line x1="354.09" y1="1204.7" x2="426.99" y2="1204.7" stroke="#242424" stroke-width="1.35"/>
<line x1="354.09" y1="1208.3" x2="426.99" y2="1208.3" stroke="#242424" stroke-width="1.35"/>
<line x1="354.09" y1="1868.8" x2="426.99" y2="1868.8" stroke="#242424" stroke-width="1.35"/>
<rect x="354.09" y="1056.8" width="72.9" height="813.2" fill="none" stroke="#242424" stroke-width="1.35"/>
</g>
<g>
<rect x="435.32" y="1354.8" width="72.9" height="5.3" fill="#b5dfe6"/>
<rect x="435.32" y="1360.1" width="72.9" height="12.1" fill="#7a7b7b"/>
<rect x="435.32" y="1372.2" width="72.9" height="2.4" fill="#c2bf33"/>
<rect x="435.32" y="1374.6" width="72.9" height="3.6" fill="#9366ac"/>
<rect x="435.32" y="1378.2" width="72.9" height="1.9" fill="#f59fa5"/>
<rect x="435.32" y="1380.1" width="72.9" height="12.1" fill="#d33428"/>
<rect x="435.32" y="1392.2" width="72.9" height="151.8" fill="#b4d98e"/>
<rect x="435.32" y="1544" width="72.9" height="5.3" fill="#f9be84"/>
<rect x="435.32" y="1549.3" width="72.9" height="4.8" fill="#f2831f"/>
<rect x="435.32" y="1554.1" width="72.9" height="6" fill="#b3c8e8"/>
<rect x="435.32" y="1560.1" width="72.9" height="4.9" fill="#2f7bbb"/>
<rect x="435.32" y="1565" width="72.9" height="303.8" fill="#d277b2"/>
<rect x="435.32" y="1868.8" width="72.9" height="1.2" fill="#88564b"/>
<line x1="435.32" y1="1360.1" x2="508.22" y2="1360.1" stroke="#242424" stroke-width="1.35"/>
<line x1="435.32" y1="1372.2" x2="508.22" y2="1372.2" stroke="#242424" stroke-width="1.35"/>
<line x1="435.32" y1="1374.6" x2="508.22" y2="1374.6" stroke="#242424" stroke-width="1.35"/>
<line x1="435.32" y1="1378.2" x2="508.22" y2="1378.2" stroke="#242424" stroke-width="1.35"/>
<line x1="435.32" y1="1380.1" x2="508.22" y2="1380.1" stroke="#242424" stroke-width="1.35"/>
<line x1="435.32" y1="1392.2" x2="508.22" y2="1392.2" stroke="#242424" stroke-width="1.35"/>
<line x1="435.32" y1="1544" x2="508.22" y2="1544" stroke="#242424" stroke-width="1.35"/>
<line x1="435.32" y1="1549.3" x2="508.22" y2="1549.3" stroke="#242424" stroke-width="1.35"/>
<line x1="435.32" y1="1554.1" x2="508.22" y2="1554.1" stroke="#242424" stroke-width="1.35"/>
<line x1="435.32" y1="1560.1" x2="508.22" y2="1560.1" stroke="#242424" stroke-width="1.35"/>
<line x1="435.32" y1="1565" x2="508.22" y2="1565" stroke="#242424" stroke-width="1.35"/>
<line x1="435.32" y1="1868.8" x2="508.22" y2="1868.8" stroke="#242424" stroke-width="1.35"/>
<rect x="435.32" y="1354.8" width="72.9" height="515.2" fill="none" stroke="#242424" stroke-width="1.35"/>
</g>
<g>
<rect x="516.55" y="1355.3" width="72.9" height="5.5" fill="#b5dfe6"/>
<rect x="516.55" y="1360.8" width="72.9" height="1.2" fill="#1a1a1a"/>
<rect x="516.55" y="1362" width="72.9" height="12.1" fill="#7a7b7b"/>
<rect x="516.55" y="1374.1" width="72.9" height="1.7" fill="#c2bf33"/>
<rect x="516.55" y="1375.8" width="72.9" height="3.6" fill="#9366ac"/>
<rect x="516.55" y="1379.4" width="72.9" height="1.2" fill="#f59fa5"/>
<rect x="516.55" y="1380.6" width="72.9" height="33.7" fill="#d33428"/>
<rect x="516.55" y="1414.3" width="72.9" height="116.2" fill="#b4d98e"/>
<rect x="516.55" y="1530.5" width="72.9" height="10.3" fill="#f9be84"/>
<rect x="516.55" y="1540.8" width="72.9" height="12.1" fill="#b3c8e8"/>
<rect x="516.55" y="1552.9" width="72.9" height="3.6" fill="#2f7bbb"/>
<rect x="516.55" y="1556.5" width="72.9" height="312.3" fill="#d277b2"/>
<rect x="516.55" y="1868.8" width="72.9" height="1.2" fill="#88564b"/>
<line x1="516.55" y1="1360.8" x2="589.45" y2="1360.8" stroke="#242424" stroke-width="1.35"/>
<line x1="516.55" y1="1362" x2="589.45" y2="1362" stroke="#242424" stroke-width="1.35"/>
<line x1="516.55" y1="1374.1" x2="589.45" y2="1374.1" stroke="#242424" stroke-width="1.35"/>
<line x1="516.55" y1="1375.8" x2="589.45" y2="1375.8" stroke="#242424" stroke-width="1.35"/>
<line x1="516.55" y1="1379.4" x2="589.45" y2="1379.4" stroke="#242424" stroke-width="1.35"/>
<line x1="516.55" y1="1380.6" x2="589.45" y2="1380.6" stroke="#242424" stroke-width="1.35"/>
<line x1="516.55" y1="1414.3" x2="589.45" y2="1414.3" stroke="#242424" stroke-width="1.35"/>
<line x1="516.55" y1="1530.5" x2="589.45" y2="1530.5" stroke="#242424" stroke-width="1.35"/>
<line x1="516.55" y1="1540.8" x2="589.45" y2="1540.8" stroke="#242424" stroke-width="1.35"/>
<line x1="516.55" y1="1552.9" x2="589.45" y2="1552.9" stroke="#242424" stroke-width="1.35"/>
<line x1="516.55" y1="1556.5" x2="589.45" y2="1556.5" stroke="#242424" stroke-width="1.35"/>
<line x1="516.55" y1="1868.8" x2="589.45" y2="1868.8" stroke="#242424" stroke-width="1.35"/>
<rect x="516.55" y="1355.3" width="72.9" height="514.7" fill="none" stroke="#242424" stroke-width="1.35"/>
</g>
<g>
<rect x="597.78" y="1409.5" width="72.9" height="5.3" fill="#b5dfe6"/>
<rect x="597.78" y="1414.8" width="72.9" height="18.3" fill="#7a7b7b"/>
<rect x="597.78" y="1433.1" width="72.9" height="2" fill="#c2bf33"/>
<rect x="597.78" y="1435.1" width="72.9" height="2.1" fill="#f59fa5"/>
<rect x="597.78" y="1437.2" width="72.9" height="7.3" fill="#9366ac"/>
<rect x="597.78" y="1444.5" width="72.9" height="2.4" fill="#f59fa5"/>
<rect x="597.78" y="1446.9" width="72.9" height="13.7" fill="#d33428"/>
<rect x="597.78" y="1460.6" width="72.9" height="164.6" fill="#b4d98e"/>
<rect x="597.78" y="1625.2" width="72.9" height="14" fill="#f9be84"/>
<rect x="597.78" y="1639.2" width="72.9" height="11.3" fill="#b3c8e8"/>
<rect x="597.78" y="1650.5" width="72.9" height="3.6" fill="#2f7bbb"/>
<rect x="597.78" y="1654.1" width="72.9" height="213.2" fill="#d277b2"/>
<rect x="597.78" y="1867.3" width="72.9" height="2.7" fill="#88564b"/>
<line x1="597.78" y1="1414.8" x2="670.68" y2="1414.8" stroke="#242424" stroke-width="1.35"/>
<line x1="597.78" y1="1433.1" x2="670.68" y2="1433.1" stroke="#242424" stroke-width="1.35"/>
<line x1="597.78" y1="1435.1" x2="670.68" y2="1435.1" stroke="#242424" stroke-width="1.35"/>
<line x1="597.78" y1="1437.2" x2="670.68" y2="1437.2" stroke="#242424" stroke-width="1.35"/>
<line x1="597.78" y1="1444.5" x2="670.68" y2="1444.5" stroke="#242424" stroke-width="1.35"/>
<line x1="597.78" y1="1446.9" x2="670.68" y2="1446.9" stroke="#242424" stroke-width="1.35"/>
<line x1="597.78" y1="1460.6" x2="670.68" y2="1460.6" stroke="#242424" stroke-width="1.35"/>
<line x1="597.78" y1="1625.2" x2="670.68" y2="1625.2" stroke="#242424" stroke-width="1.35"/>
<line x1="597.78" y1="1639.2" x2="670.68" y2="1639.2" stroke="#242424" stroke-width="1.35"/>
<line x1="597.78" y1="1650.5" x2="670.68" y2="1650.5" stroke="#242424" stroke-width="1.35"/>
<line x1="597.78" y1="1654.1" x2="670.68" y2="1654.1" stroke="#242424" stroke-width="1.35"/>
<line x1="597.78" y1="1867.3" x2="670.68" y2="1867.3" stroke="#242424" stroke-width="1.35"/>
<rect x="597.78" y="1409.5" width="72.9" height="460.5" fill="none" stroke="#242424" stroke-width="1.35"/>
</g>
<line x1="109.4" y1="1046.9" x2="109.4" y2="1877.2" stroke="#111" stroke-width="2.6"/>
<line x1="101.9" y1="1870.7" x2="674.3" y2="1870.7" stroke="#111" stroke-width="2.6"/>
<line x1="673" y1="1869.4" x2="673" y2="1877.2" stroke="#111" stroke-width="2.6"/>
<line x1="146.85" y1="1870.7" x2="146.85" y2="1876.7" stroke="#111" stroke-width="2.6"/>
<line x1="228.08" y1="1870.7" x2="228.08" y2="1876.7" stroke="#111" stroke-width="2.6"/>
<line x1="309.31" y1="1870.7" x2="309.31" y2="1876.7" stroke="#111" stroke-width="2.6"/>
<line x1="390.54" y1="1870.7" x2="390.54" y2="1876.7" stroke="#111" stroke-width="2.6"/>
<line x1="471.77" y1="1870.7" x2="471.77" y2="1876.7" stroke="#111" stroke-width="2.6"/>
<line x1="553" y1="1870.7" x2="553" y2="1876.7" stroke="#111" stroke-width="2.6"/>
<line x1="634.23" y1="1870.7" x2="634.23" y2="1876.7" stroke="#111" stroke-width="2.6"/>
<line x1="101.9" y1="1870.7" x2="109.4" y2="1870.7" stroke="#111" stroke-width="2.6"/>
<text x="77.9" y="1874.5" font-size="29.18" text-anchor="middle" textLength="15.57" lengthAdjust="spacingAndGlyphs">0</text>
<line x1="101.9" y1="1781.5" x2="109.4" y2="1781.5" stroke="#111" stroke-width="2.6"/>
<text x="77.9" y="1785.3" font-size="29.18" text-anchor="middle" textLength="15.57" lengthAdjust="spacingAndGlyphs">5</text>
<line x1="101.9" y1="1692.3" x2="109.4" y2="1692.3" stroke="#111" stroke-width="2.6"/>
<text x="77.9" y="1696.1" font-size="29.18" text-anchor="middle" textLength="31.15" lengthAdjust="spacingAndGlyphs">10</text>
<line x1="101.9" y1="1603.1" x2="109.4" y2="1603.1" stroke="#111" stroke-width="2.6"/>
<text x="77.9" y="1606.9" font-size="29.18" text-anchor="middle" textLength="31.15" lengthAdjust="spacingAndGlyphs">15</text>
<line x1="101.9" y1="1513.9" x2="109.4" y2="1513.9" stroke="#111" stroke-width="2.6"/>
<text x="77.9" y="1517.7" font-size="29.18" text-anchor="middle" textLength="31.15" lengthAdjust="spacingAndGlyphs">20</text>
<line x1="101.9" y1="1424.7" x2="109.4" y2="1424.7" stroke="#111" stroke-width="2.6"/>
<text x="77.9" y="1428.5" font-size="29.18" text-anchor="middle" textLength="31.15" lengthAdjust="spacingAndGlyphs">25</text>
<line x1="101.9" y1="1335.5" x2="109.4" y2="1335.5" stroke="#111" stroke-width="2.6"/>
<text x="77.9" y="1339.3" font-size="29.18" text-anchor="middle" textLength="31.15" lengthAdjust="spacingAndGlyphs">30</text>
<line x1="101.9" y1="1246.3" x2="109.4" y2="1246.3" stroke="#111" stroke-width="2.6"/>
<text x="77.9" y="1250.1" font-size="29.18" text-anchor="middle" textLength="31.15" lengthAdjust="spacingAndGlyphs">35</text>
<line x1="101.9" y1="1157.1" x2="109.4" y2="1157.1" stroke="#111" stroke-width="2.6"/>
<text x="77.9" y="1160.9" font-size="29.18" text-anchor="middle" textLength="31.15" lengthAdjust="spacingAndGlyphs">40</text>
<line x1="101.9" y1="1067.9" x2="109.4" y2="1067.9" stroke="#111" stroke-width="2.6"/>
<text x="77.9" y="1071.7" font-size="29.18" text-anchor="middle" textLength="31.15" lengthAdjust="spacingAndGlyphs">45</text>
<line x1="108.7" y1="2116.5" x2="673" y2="2116.5" stroke="#dcdcdc" stroke-width="1.3"/>
<line x1="108.7" y1="2027.5" x2="673" y2="2027.5" stroke="#dcdcdc" stroke-width="1.3"/>
<line x1="108.7" y1="1938.5" x2="673" y2="1938.5" stroke="#dcdcdc" stroke-width="1.3"/>
<line x1="146.5" y1="1892.2" x2="146.5" y2="2205.5" stroke="#dcdcdc" stroke-width="1.3"/>
<line x1="227.53" y1="1892.2" x2="227.53" y2="2205.5" stroke="#dcdcdc" stroke-width="1.3"/>
<line x1="308.56" y1="1892.2" x2="308.56" y2="2205.5" stroke="#dcdcdc" stroke-width="1.3"/>
<line x1="389.59" y1="1892.2" x2="389.59" y2="2205.5" stroke="#dcdcdc" stroke-width="1.3"/>
<line x1="470.62" y1="1892.2" x2="470.62" y2="2205.5" stroke="#dcdcdc" stroke-width="1.3"/>
<line x1="551.65" y1="1892.2" x2="551.65" y2="2205.5" stroke="#dcdcdc" stroke-width="1.3"/>
<line x1="632.68" y1="1892.2" x2="632.68" y2="2205.5" stroke="#dcdcdc" stroke-width="1.3"/>
<g>
<rect x="109.9" y="1931.2" width="73.2" height="6.6" fill="#c6c6c6"/>
<rect x="109.9" y="1937.8" width="73.2" height="36.4" fill="#7a7b7b"/>
<rect x="109.9" y="1974.2" width="73.2" height="17.2" fill="#b5dfe6"/>
<rect x="109.9" y="1991.4" width="73.2" height="4.3" fill="#61c6d5"/>
<rect x="109.9" y="1995.7" width="73.2" height="63.4" fill="#e0de93"/>
<rect x="109.9" y="2059.1" width="73.2" height="7.4" fill="#c2bf33"/>
<rect x="109.9" y="2066.5" width="73.2" height="55.1" fill="#ccb2d7"/>
<rect x="109.9" y="2121.6" width="73.2" height="21.5" fill="#9366ac"/>
<rect x="109.9" y="2143.1" width="73.2" height="3" fill="#d33428"/>
<rect x="109.9" y="2146.1" width="73.2" height="2" fill="#b4d98e"/>
<rect x="109.9" y="2148.1" width="73.2" height="3.8" fill="#2fae49"/>
<rect x="109.9" y="2151.9" width="73.2" height="35.4" fill="#f9be84"/>
<rect x="109.9" y="2187.3" width="73.2" height="12.7" fill="#f2831f"/>
<rect x="109.9" y="2200" width="73.2" height="2.5" fill="#7a7b7b"/>
<rect x="109.9" y="2202.5" width="73.2" height="2.5" fill="#2f7bbb"/>
<line x1="109.9" y1="1937.8" x2="183.1" y2="1937.8" stroke="#242424" stroke-width="1.35"/>
<line x1="109.9" y1="1974.2" x2="183.1" y2="1974.2" stroke="#242424" stroke-width="1.35"/>
<line x1="109.9" y1="1991.4" x2="183.1" y2="1991.4" stroke="#242424" stroke-width="1.35"/>
<line x1="109.9" y1="1995.7" x2="183.1" y2="1995.7" stroke="#242424" stroke-width="1.35"/>
<line x1="109.9" y1="2059.1" x2="183.1" y2="2059.1" stroke="#242424" stroke-width="1.35"/>
<line x1="109.9" y1="2066.5" x2="183.1" y2="2066.5" stroke="#242424" stroke-width="1.35"/>
<line x1="109.9" y1="2121.6" x2="183.1" y2="2121.6" stroke="#242424" stroke-width="1.35"/>
<line x1="109.9" y1="2143.1" x2="183.1" y2="2143.1" stroke="#242424" stroke-width="1.35"/>
<line x1="109.9" y1="2146.1" x2="183.1" y2="2146.1" stroke="#242424" stroke-width="1.35"/>
<line x1="109.9" y1="2148.1" x2="183.1" y2="2148.1" stroke="#242424" stroke-width="1.35"/>
<line x1="109.9" y1="2151.9" x2="183.1" y2="2151.9" stroke="#242424" stroke-width="1.35"/>
<line x1="109.9" y1="2187.3" x2="183.1" y2="2187.3" stroke="#242424" stroke-width="1.35"/>
<line x1="109.9" y1="2200" x2="183.1" y2="2200" stroke="#242424" stroke-width="1.35"/>
<line x1="109.9" y1="2202.5" x2="183.1" y2="2202.5" stroke="#242424" stroke-width="1.35"/>
<rect x="109.9" y="1931.2" width="73.2" height="273.8" fill="none" stroke="#242424" stroke-width="1.35"/>
</g>
<g>
<rect x="190.93" y="2040.7" width="73.2" height="1.3" fill="#c6c6c6"/>
<rect x="190.93" y="2042" width="73.2" height="39.1" fill="#7a7b7b"/>
<rect x="190.93" y="2081.1" width="73.2" height="2.6" fill="#61c6d5"/>
<rect x="190.93" y="2083.7" width="73.2" height="39.9" fill="#e0de93"/>
<rect x="190.93" y="2123.6" width="73.2" height="4.8" fill="#c2bf33"/>
<rect x="190.93" y="2128.4" width="73.2" height="37.9" fill="#ccb2d7"/>
<rect x="190.93" y="2166.3" width="73.2" height="12.7" fill="#9366ac"/>
<rect x="190.93" y="2179" width="73.2" height="2.5" fill="#1a1a1a"/>
<rect x="190.93" y="2181.5" width="73.2" height="12.1" fill="#f9be84"/>
<rect x="190.93" y="2193.6" width="73.2" height="7.6" fill="#f2831f"/>
<rect x="190.93" y="2201.2" width="73.2" height="3.8" fill="#2f7bbb"/>
<line x1="190.93" y1="2042" x2="264.13" y2="2042" stroke="#242424" stroke-width="1.35"/>
<line x1="190.93" y1="2081.1" x2="264.13" y2="2081.1" stroke="#242424" stroke-width="1.35"/>
<line x1="190.93" y1="2083.7" x2="264.13" y2="2083.7" stroke="#242424" stroke-width="1.35"/>
<line x1="190.93" y1="2123.6" x2="264.13" y2="2123.6" stroke="#242424" stroke-width="1.35"/>
<line x1="190.93" y1="2128.4" x2="264.13" y2="2128.4" stroke="#242424" stroke-width="1.35"/>
<line x1="190.93" y1="2166.3" x2="264.13" y2="2166.3" stroke="#242424" stroke-width="1.35"/>
<line x1="190.93" y1="2179" x2="264.13" y2="2179" stroke="#242424" stroke-width="1.35"/>
<line x1="190.93" y1="2181.5" x2="264.13" y2="2181.5" stroke="#242424" stroke-width="1.35"/>
<line x1="190.93" y1="2193.6" x2="264.13" y2="2193.6" stroke="#242424" stroke-width="1.35"/>
<line x1="190.93" y1="2201.2" x2="264.13" y2="2201.2" stroke="#242424" stroke-width="1.35"/>
<rect x="190.93" y="2040.7" width="73.2" height="164.3" fill="none" stroke="#242424" stroke-width="1.35"/>
</g>
<g>
<rect x="271.96" y="1990.1" width="73.2" height="3.3" fill="#c6c6c6"/>
<rect x="271.96" y="1993.4" width="73.2" height="28.3" fill="#7a7b7b"/>
<rect x="271.96" y="2021.7" width="73.2" height="3" fill="#61c6d5"/>
<rect x="271.96" y="2024.7" width="73.2" height="83" fill="#e0de93"/>
<rect x="271.96" y="2107.7" width="73.2" height="3.8" fill="#c2bf33"/>
<rect x="271.96" y="2111.5" width="73.2" height="46.7" fill="#ccb2d7"/>
<rect x="271.96" y="2158.2" width="73.2" height="16.5" fill="#9366ac"/>
<rect x="271.96" y="2174.7" width="73.2" height="3.3" fill="#d33428"/>
<rect x="271.96" y="2178" width="73.2" height="15.1" fill="#f9be84"/>
<rect x="271.96" y="2193.1" width="73.2" height="8.6" fill="#f2831f"/>
<rect x="271.96" y="2201.7" width="73.2" height="3.3" fill="#2f7bbb"/>
<line x1="271.96" y1="1993.4" x2="345.16" y2="1993.4" stroke="#242424" stroke-width="1.35"/>
<line x1="271.96" y1="2021.7" x2="345.16" y2="2021.7" stroke="#242424" stroke-width="1.35"/>
<line x1="271.96" y1="2024.7" x2="345.16" y2="2024.7" stroke="#242424" stroke-width="1.35"/>
<line x1="271.96" y1="2107.7" x2="345.16" y2="2107.7" stroke="#242424" stroke-width="1.35"/>
<line x1="271.96" y1="2111.5" x2="345.16" y2="2111.5" stroke="#242424" stroke-width="1.35"/>
<line x1="271.96" y1="2158.2" x2="345.16" y2="2158.2" stroke="#242424" stroke-width="1.35"/>
<line x1="271.96" y1="2174.7" x2="345.16" y2="2174.7" stroke="#242424" stroke-width="1.35"/>
<line x1="271.96" y1="2178" x2="345.16" y2="2178" stroke="#242424" stroke-width="1.35"/>
<line x1="271.96" y1="2193.1" x2="345.16" y2="2193.1" stroke="#242424" stroke-width="1.35"/>
<line x1="271.96" y1="2201.7" x2="345.16" y2="2201.7" stroke="#242424" stroke-width="1.35"/>
<rect x="271.96" y="1990.1" width="73.2" height="214.9" fill="none" stroke="#242424" stroke-width="1.35"/>
</g>
<g>
<rect x="352.99" y="2089.5" width="73.2" height="1.7" fill="#c6c6c6"/>
<rect x="352.99" y="2091.2" width="73.2" height="16.5" fill="#7a7b7b"/>
<rect x="352.99" y="2107.7" width="73.2" height="2.5" fill="#1a1a1a"/>
<rect x="352.99" y="2110.2" width="73.2" height="35.4" fill="#e0de93"/>
<rect x="352.99" y="2145.6" width="73.2" height="2.5" fill="#d33428"/>
<rect x="352.99" y="2148.1" width="73.2" height="22.8" fill="#ccb2d7"/>
<rect x="352.99" y="2170.9" width="73.2" height="10.1" fill="#9366ac"/>
<rect x="352.99" y="2181" width="73.2" height="2.5" fill="#d33428"/>
<rect x="352.99" y="2183.5" width="73.2" height="9.6" fill="#f9be84"/>
<rect x="352.99" y="2193.1" width="73.2" height="7.6" fill="#f2831f"/>
<rect x="352.99" y="2200.7" width="73.2" height="2.3" fill="#b3c8e8"/>
<rect x="352.99" y="2203" width="73.2" height="2" fill="#2f7bbb"/>
<line x1="352.99" y1="2091.2" x2="426.19" y2="2091.2" stroke="#242424" stroke-width="1.35"/>
<line x1="352.99" y1="2107.7" x2="426.19" y2="2107.7" stroke="#242424" stroke-width="1.35"/>
<line x1="352.99" y1="2110.2" x2="426.19" y2="2110.2" stroke="#242424" stroke-width="1.35"/>
<line x1="352.99" y1="2145.6" x2="426.19" y2="2145.6" stroke="#242424" stroke-width="1.35"/>
<line x1="352.99" y1="2148.1" x2="426.19" y2="2148.1" stroke="#242424" stroke-width="1.35"/>
<line x1="352.99" y1="2170.9" x2="426.19" y2="2170.9" stroke="#242424" stroke-width="1.35"/>
<line x1="352.99" y1="2181" x2="426.19" y2="2181" stroke="#242424" stroke-width="1.35"/>
<line x1="352.99" y1="2183.5" x2="426.19" y2="2183.5" stroke="#242424" stroke-width="1.35"/>
<line x1="352.99" y1="2193.1" x2="426.19" y2="2193.1" stroke="#242424" stroke-width="1.35"/>
<line x1="352.99" y1="2200.7" x2="426.19" y2="2200.7" stroke="#242424" stroke-width="1.35"/>
<line x1="352.99" y1="2203" x2="426.19" y2="2203" stroke="#242424" stroke-width="1.35"/>
<rect x="352.99" y="2089.5" width="73.2" height="115.5" fill="none" stroke="#242424" stroke-width="1.35"/>
</g>
<g>
<rect x="434.02" y="1906.5" width="73.2" height="46.1" fill="#7a7b7b"/>
<rect x="434.02" y="1952.6" width="73.2" height="1.4" fill="#1a1a1a"/>
<rect x="434.02" y="1954" width="73.2" height="1.8" fill="#61c6d5"/>
<rect x="434.02" y="1955.8" width="73.2" height="94.1" fill="#e0de93"/>
<rect x="434.02" y="2049.9" width="73.2" height="4.4" fill="#c2bf33"/>
<rect x="434.02" y="2054.3" width="73.2" height="60.2" fill="#ccb2d7"/>
<rect x="434.02" y="2114.5" width="73.2" height="23.5" fill="#9366ac"/>
<rect x="434.02" y="2138" width="73.2" height="4" fill="#d33428"/>
<rect x="434.02" y="2142" width="73.2" height="28.3" fill="#f9be84"/>
<rect x="434.02" y="2170.3" width="73.2" height="10.6" fill="#f2831f"/>
<rect x="434.02" y="2180.9" width="73.2" height="21.2" fill="#b3c8e8"/>
<rect x="434.02" y="2202.1" width="73.2" height="2.9" fill="#2f7bbb"/>
<line x1="434.02" y1="1952.6" x2="507.22" y2="1952.6" stroke="#242424" stroke-width="1.35"/>
<line x1="434.02" y1="1954" x2="507.22" y2="1954" stroke="#242424" stroke-width="1.35"/>
<line x1="434.02" y1="1955.8" x2="507.22" y2="1955.8" stroke="#242424" stroke-width="1.35"/>
<line x1="434.02" y1="2049.9" x2="507.22" y2="2049.9" stroke="#242424" stroke-width="1.35"/>
<line x1="434.02" y1="2054.3" x2="507.22" y2="2054.3" stroke="#242424" stroke-width="1.35"/>
<line x1="434.02" y1="2114.5" x2="507.22" y2="2114.5" stroke="#242424" stroke-width="1.35"/>
<line x1="434.02" y1="2138" x2="507.22" y2="2138" stroke="#242424" stroke-width="1.35"/>
<line x1="434.02" y1="2142" x2="507.22" y2="2142" stroke="#242424" stroke-width="1.35"/>
<line x1="434.02" y1="2170.3" x2="507.22" y2="2170.3" stroke="#242424" stroke-width="1.35"/>
<line x1="434.02" y1="2180.9" x2="507.22" y2="2180.9" stroke="#242424" stroke-width="1.35"/>
<line x1="434.02" y1="2202.1" x2="507.22" y2="2202.1" stroke="#242424" stroke-width="1.35"/>
<rect x="434.02" y="1906.5" width="73.2" height="298.5" fill="none" stroke="#242424" stroke-width="1.35"/>
</g>
<g>
<rect x="515.05" y="1902.1" width="73.2" height="11.2" fill="#c6c6c6"/>
<rect x="515.05" y="1913.3" width="73.2" height="75" fill="#7a7b7b"/>
<rect x="515.05" y="1988.3" width="73.2" height="2.9" fill="#1a1a1a"/>
<rect x="515.05" y="1991.2" width="73.2" height="63.1" fill="#e0de93"/>
<rect x="515.05" y="2054.3" width="73.2" height="2.7" fill="#c2bf33"/>
<rect x="515.05" y="2057" width="73.2" height="40.3" fill="#ccb2d7"/>
<rect x="515.05" y="2097.3" width="73.2" height="16.3" fill="#9366ac"/>
<rect x="515.05" y="2113.6" width="73.2" height="5.7" fill="#d33428"/>
<rect x="515.05" y="2119.3" width="73.2" height="43.9" fill="#f9be84"/>
<rect x="515.05" y="2163.2" width="73.2" height="12.4" fill="#f2831f"/>
<rect x="515.05" y="2175.6" width="73.2" height="27.4" fill="#b3c8e8"/>
<rect x="515.05" y="2203" width="73.2" height="2" fill="#2f7bbb"/>
<line x1="515.05" y1="1913.3" x2="588.25" y2="1913.3" stroke="#242424" stroke-width="1.35"/>
<line x1="515.05" y1="1988.3" x2="588.25" y2="1988.3" stroke="#242424" stroke-width="1.35"/>
<line x1="515.05" y1="1991.2" x2="588.25" y2="1991.2" stroke="#242424" stroke-width="1.35"/>
<line x1="515.05" y1="2054.3" x2="588.25" y2="2054.3" stroke="#242424" stroke-width="1.35"/>
<line x1="515.05" y1="2057" x2="588.25" y2="2057" stroke="#242424" stroke-width="1.35"/>
<line x1="515.05" y1="2097.3" x2="588.25" y2="2097.3" stroke="#242424" stroke-width="1.35"/>
<line x1="515.05" y1="2113.6" x2="588.25" y2="2113.6" stroke="#242424" stroke-width="1.35"/>
<line x1="515.05" y1="2119.3" x2="588.25" y2="2119.3" stroke="#242424" stroke-width="1.35"/>
<line x1="515.05" y1="2163.2" x2="588.25" y2="2163.2" stroke="#242424" stroke-width="1.35"/>
<line x1="515.05" y1="2175.6" x2="588.25" y2="2175.6" stroke="#242424" stroke-width="1.35"/>
<line x1="515.05" y1="2203" x2="588.25" y2="2203" stroke="#242424" stroke-width="1.35"/>
<rect x="515.05" y="1902.1" width="73.2" height="302.9" fill="none" stroke="#242424" stroke-width="1.35"/>
</g>
<g>
<rect x="596.08" y="1900.4" width="73.2" height="11.1" fill="#c6c6c6"/>
<rect x="596.08" y="1911.5" width="73.2" height="62.3" fill="#7a7b7b"/>
<rect x="596.08" y="1973.8" width="73.2" height="3.9" fill="#b5dfe6"/>
<rect x="596.08" y="1977.7" width="73.2" height="78.1" fill="#e0de93"/>
<rect x="596.08" y="2055.8" width="73.2" height="6.5" fill="#c2bf33"/>
<rect x="596.08" y="2062.3" width="73.2" height="44.2" fill="#ccb2d7"/>
<rect x="596.08" y="2106.5" width="73.2" height="20.4" fill="#9366ac"/>
<rect x="596.08" y="2126.9" width="73.2" height="4.4" fill="#d33428"/>
<rect x="596.08" y="2131.3" width="73.2" height="2.7" fill="#b4d98e"/>
<rect x="596.08" y="2134" width="73.2" height="38" fill="#f9be84"/>
<rect x="596.08" y="2172" width="73.2" height="11.5" fill="#f2831f"/>
<rect x="596.08" y="2183.5" width="73.2" height="17.7" fill="#b3c8e8"/>
<rect x="596.08" y="2201.2" width="73.2" height="3.8" fill="#2f7bbb"/>
<line x1="596.08" y1="1911.5" x2="669.28" y2="1911.5" stroke="#242424" stroke-width="1.35"/>
<line x1="596.08" y1="1973.8" x2="669.28" y2="1973.8" stroke="#242424" stroke-width="1.35"/>
<line x1="596.08" y1="1977.7" x2="669.28" y2="1977.7" stroke="#242424" stroke-width="1.35"/>
<line x1="596.08" y1="2055.8" x2="669.28" y2="2055.8" stroke="#242424" stroke-width="1.35"/>
<line x1="596.08" y1="2062.3" x2="669.28" y2="2062.3" stroke="#242424" stroke-width="1.35"/>
<line x1="596.08" y1="2106.5" x2="669.28" y2="2106.5" stroke="#242424" stroke-width="1.35"/>
<line x1="596.08" y1="2126.9" x2="669.28" y2="2126.9" stroke="#242424" stroke-width="1.35"/>
<line x1="596.08" y1="2131.3" x2="669.28" y2="2131.3" stroke="#242424" stroke-width="1.35"/>
<line x1="596.08" y1="2134" x2="669.28" y2="2134" stroke="#242424" stroke-width="1.35"/>
<line x1="596.08" y1="2172" x2="669.28" y2="2172" stroke="#242424" stroke-width="1.35"/>
<line x1="596.08" y1="2183.5" x2="669.28" y2="2183.5" stroke="#242424" stroke-width="1.35"/>
<line x1="596.08" y1="2201.2" x2="669.28" y2="2201.2" stroke="#242424" stroke-width="1.35"/>
<rect x="596.08" y="1900.4" width="73.2" height="304.6" fill="none" stroke="#242424" stroke-width="1.35"/>
</g>
<line x1="108.7" y1="1892.2" x2="108.7" y2="2212" stroke="#111" stroke-width="2.6"/>
<line x1="101.2" y1="2205.5" x2="674.3" y2="2205.5" stroke="#111" stroke-width="2.6"/>
<line x1="673" y1="2204.2" x2="673" y2="2212" stroke="#111" stroke-width="2.6"/>
<line x1="149.5" y1="2205.5" x2="149.5" y2="2211.5" stroke="#111" stroke-width="2.6"/>
<line x1="230.53" y1="2205.5" x2="230.53" y2="2211.5" stroke="#111" stroke-width="2.6"/>
<line x1="311.56" y1="2205.5" x2="311.56" y2="2211.5" stroke="#111" stroke-width="2.6"/>
<line x1="392.59" y1="2205.5" x2="392.59" y2="2211.5" stroke="#111" stroke-width="2.6"/>
<line x1="473.62" y1="2205.5" x2="473.62" y2="2211.5" stroke="#111" stroke-width="2.6"/>
<line x1="554.65" y1="2205.5" x2="554.65" y2="2211.5" stroke="#111" stroke-width="2.6"/>
<line x1="635.68" y1="2205.5" x2="635.68" y2="2211.5" stroke="#111" stroke-width="2.6"/>
<line x1="101.2" y1="2205.5" x2="108.7" y2="2205.5" stroke="#111" stroke-width="2.6"/>
<text x="77.7" y="2209.3" font-size="29.18" text-anchor="middle" textLength="15.57" lengthAdjust="spacingAndGlyphs">0</text>
<line x1="101.2" y1="2116.5" x2="108.7" y2="2116.5" stroke="#111" stroke-width="2.6"/>
<text x="77.7" y="2120.3" font-size="29.18" text-anchor="middle" textLength="15.57" lengthAdjust="spacingAndGlyphs">5</text>
<line x1="101.2" y1="2027.5" x2="108.7" y2="2027.5" stroke="#111" stroke-width="2.6"/>
<text x="77.7" y="2031.3" font-size="29.18" text-anchor="middle" textLength="31.15" lengthAdjust="spacingAndGlyphs">10</text>
<line x1="101.2" y1="1938.5" x2="108.7" y2="1938.5" stroke="#111" stroke-width="2.6"/>
<text x="77.7" y="1942.3" font-size="29.18" text-anchor="middle" textLength="31.15" lengthAdjust="spacingAndGlyphs">15</text>
<line x1="109.5" y1="2341" x2="673" y2="2341" stroke="#dcdcdc" stroke-width="1.3"/>
<line x1="109.5" y1="2251.8" x2="673" y2="2251.8" stroke="#dcdcdc" stroke-width="1.3"/>
<line x1="149.3" y1="2234.1" x2="149.3" y2="2430.2" stroke="#dcdcdc" stroke-width="1.3"/>
<line x1="230" y1="2234.1" x2="230" y2="2430.2" stroke="#dcdcdc" stroke-width="1.3"/>
<line x1="310.7" y1="2234.1" x2="310.7" y2="2430.2" stroke="#dcdcdc" stroke-width="1.3"/>
<line x1="391.4" y1="2234.1" x2="391.4" y2="2430.2" stroke="#dcdcdc" stroke-width="1.3"/>
<line x1="472.1" y1="2234.1" x2="472.1" y2="2430.2" stroke="#dcdcdc" stroke-width="1.3"/>
<line x1="552.8" y1="2234.1" x2="552.8" y2="2430.2" stroke="#dcdcdc" stroke-width="1.3"/>
<line x1="633.5" y1="2234.1" x2="633.5" y2="2430.2" stroke="#dcdcdc" stroke-width="1.3"/>
<g>
<rect x="112.8" y="2280.4" width="73" height="11.1" fill="#c2bf33"/>
<rect x="112.8" y="2291.5" width="73" height="7.6" fill="#9366ac"/>
<rect x="112.8" y="2299.1" width="73" height="3.3" fill="#d33428"/>
<rect x="112.8" y="2302.4" width="73" height="5.1" fill="#2fae49"/>
<rect x="112.8" y="2307.5" width="73" height="55.6" fill="#f9be84"/>
<rect x="112.8" y="2363.1" width="73" height="24.5" fill="#2f7bbb"/>
<rect x="112.8" y="2387.6" width="73" height="10.4" fill="#f4b6d2"/>
<rect x="112.8" y="2398" width="73" height="13.1" fill="#d277b2"/>
<rect x="112.8" y="2411.1" width="73" height="17" fill="#c39b93"/>
<rect x="112.8" y="2428.1" width="73" height="1.7" fill="#88564b"/>
<line x1="112.8" y1="2291.5" x2="185.8" y2="2291.5" stroke="#242424" stroke-width="1.35"/>
<line x1="112.8" y1="2299.1" x2="185.8" y2="2299.1" stroke="#242424" stroke-width="1.35"/>
<line x1="112.8" y1="2302.4" x2="185.8" y2="2302.4" stroke="#242424" stroke-width="1.35"/>
<line x1="112.8" y1="2307.5" x2="185.8" y2="2307.5" stroke="#242424" stroke-width="1.35"/>
<line x1="112.8" y1="2363.1" x2="185.8" y2="2363.1" stroke="#242424" stroke-width="1.35"/>
<line x1="112.8" y1="2387.6" x2="185.8" y2="2387.6" stroke="#242424" stroke-width="1.35"/>
<line x1="112.8" y1="2398" x2="185.8" y2="2398" stroke="#242424" stroke-width="1.35"/>
<line x1="112.8" y1="2411.1" x2="185.8" y2="2411.1" stroke="#242424" stroke-width="1.35"/>
<line x1="112.8" y1="2428.1" x2="185.8" y2="2428.1" stroke="#242424" stroke-width="1.35"/>
<rect x="112.8" y="2280.4" width="73" height="149.4" fill="none" stroke="#242424" stroke-width="1.35"/>
</g>
<g>
<rect x="193.5" y="2359.3" width="73" height="3.8" fill="#c2bf33"/>
<rect x="193.5" y="2363.1" width="73" height="3.8" fill="#3a3a3a"/>
<rect x="193.5" y="2366.9" width="73" height="24" fill="#f9be84"/>
<rect x="193.5" y="2390.9" width="73" height="10.6" fill="#2f7bbb"/>
<rect x="193.5" y="2401.5" width="73" height="3.8" fill="#f4b6d2"/>
<rect x="193.5" y="2405.3" width="73" height="10.1" fill="#d277b2"/>
<rect x="193.5" y="2415.4" width="73" height="14.4" fill="#c39b93"/>
<line x1="193.5" y1="2363.1" x2="266.5" y2="2363.1" stroke="#242424" stroke-width="1.35"/>
<line x1="193.5" y1="2366.9" x2="266.5" y2="2366.9" stroke="#242424" stroke-width="1.35"/>
<line x1="193.5" y1="2390.9" x2="266.5" y2="2390.9" stroke="#242424" stroke-width="1.35"/>
<line x1="193.5" y1="2401.5" x2="266.5" y2="2401.5" stroke="#242424" stroke-width="1.35"/>
<line x1="193.5" y1="2405.3" x2="266.5" y2="2405.3" stroke="#242424" stroke-width="1.35"/>
<line x1="193.5" y1="2415.4" x2="266.5" y2="2415.4" stroke="#242424" stroke-width="1.35"/>
<rect x="193.5" y="2359.3" width="73" height="70.5" fill="none" stroke="#242424" stroke-width="1.35"/>
</g>
<g>
<rect x="274.2" y="2295.3" width="73" height="6.6" fill="#c2bf33"/>
<rect x="274.2" y="2301.9" width="73" height="22" fill="#9366ac"/>
<rect x="274.2" y="2323.9" width="73" height="2.5" fill="#2fae49"/>
<rect x="274.2" y="2326.4" width="73" height="41.7" fill="#f9be84"/>
<rect x="274.2" y="2368.1" width="73" height="13.4" fill="#2f7bbb"/>
<rect x="274.2" y="2381.5" width="73" height="5.6" fill="#f4b6d2"/>
<rect x="274.2" y="2387.1" width="73" height="21.5" fill="#d277b2"/>
<rect x="274.2" y="2408.6" width="73" height="21.2" fill="#c39b93"/>
<line x1="274.2" y1="2301.9" x2="347.2" y2="2301.9" stroke="#242424" stroke-width="1.35"/>
<line x1="274.2" y1="2323.9" x2="347.2" y2="2323.9" stroke="#242424" stroke-width="1.35"/>
<line x1="274.2" y1="2326.4" x2="347.2" y2="2326.4" stroke="#242424" stroke-width="1.35"/>
<line x1="274.2" y1="2368.1" x2="347.2" y2="2368.1" stroke="#242424" stroke-width="1.35"/>
<line x1="274.2" y1="2381.5" x2="347.2" y2="2381.5" stroke="#242424" stroke-width="1.35"/>
<line x1="274.2" y1="2387.1" x2="347.2" y2="2387.1" stroke="#242424" stroke-width="1.35"/>
<line x1="274.2" y1="2408.6" x2="347.2" y2="2408.6" stroke="#242424" stroke-width="1.35"/>
<rect x="274.2" y="2295.3" width="73" height="134.5" fill="none" stroke="#242424" stroke-width="1.35"/>
</g>
<g>
<rect x="354.9" y="2342.9" width="73" height="7.5" fill="#c2bf33"/>
<rect x="354.9" y="2350.4" width="73" height="3.3" fill="#3a3a3a"/>
<rect x="354.9" y="2353.7" width="73" height="2.3" fill="#2fae49"/>
<rect x="354.9" y="2356" width="73" height="29.3" fill="#f9be84"/>
<rect x="354.9" y="2385.3" width="73" height="9.4" fill="#2f7bbb"/>
<rect x="354.9" y="2394.7" width="73" height="3.8" fill="#f4b6d2"/>
<rect x="354.9" y="2398.5" width="73" height="19.5" fill="#d277b2"/>
<rect x="354.9" y="2418" width="73" height="11.8" fill="#c39b93"/>
<line x1="354.9" y1="2350.4" x2="427.9" y2="2350.4" stroke="#242424" stroke-width="1.35"/>
<line x1="354.9" y1="2353.7" x2="427.9" y2="2353.7" stroke="#242424" stroke-width="1.35"/>
<line x1="354.9" y1="2356" x2="427.9" y2="2356" stroke="#242424" stroke-width="1.35"/>
<line x1="354.9" y1="2385.3" x2="427.9" y2="2385.3" stroke="#242424" stroke-width="1.35"/>
<line x1="354.9" y1="2394.7" x2="427.9" y2="2394.7" stroke="#242424" stroke-width="1.35"/>
<line x1="354.9" y1="2398.5" x2="427.9" y2="2398.5" stroke="#242424" stroke-width="1.35"/>
<line x1="354.9" y1="2418" x2="427.9" y2="2418" stroke="#242424" stroke-width="1.35"/>
<rect x="354.9" y="2342.9" width="73" height="86.9" fill="none" stroke="#242424" stroke-width="1.35"/>
</g>
<g>
<rect x="435.6" y="2288.5" width="73" height="12.9" fill="#c2bf33"/>
<rect x="435.6" y="2301.4" width="73" height="13.3" fill="#9366ac"/>
<rect x="435.6" y="2314.7" width="73" height="1.8" fill="#d33428"/>
<rect x="435.6" y="2316.5" width="73" height="4.4" fill="#2fae49"/>
<rect x="435.6" y="2320.9" width="73" height="49.5" fill="#f9be84"/>
<rect x="435.6" y="2370.4" width="73" height="19.2" fill="#2f7bbb"/>
<rect x="435.6" y="2389.6" width="73" height="5.3" fill="#f4b6d2"/>
<rect x="435.6" y="2394.9" width="73" height="19.8" fill="#d277b2"/>
<rect x="435.6" y="2414.7" width="73" height="15.1" fill="#c39b93"/>
<line x1="435.6" y1="2301.4" x2="508.6" y2="2301.4" stroke="#242424" stroke-width="1.35"/>
<line x1="435.6" y1="2314.7" x2="508.6" y2="2314.7" stroke="#242424" stroke-width="1.35"/>
<line x1="435.6" y1="2316.5" x2="508.6" y2="2316.5" stroke="#242424" stroke-width="1.35"/>
<line x1="435.6" y1="2320.9" x2="508.6" y2="2320.9" stroke="#242424" stroke-width="1.35"/>
<line x1="435.6" y1="2370.4" x2="508.6" y2="2370.4" stroke="#242424" stroke-width="1.35"/>
<line x1="435.6" y1="2389.6" x2="508.6" y2="2389.6" stroke="#242424" stroke-width="1.35"/>
<line x1="435.6" y1="2394.9" x2="508.6" y2="2394.9" stroke="#242424" stroke-width="1.35"/>
<line x1="435.6" y1="2414.7" x2="508.6" y2="2414.7" stroke="#242424" stroke-width="1.35"/>
<rect x="435.6" y="2288.5" width="73" height="141.3" fill="none" stroke="#242424" stroke-width="1.35"/>
</g>
<g>
<rect x="516.3" y="2293.1" width="73" height="12.7" fill="#c2bf33"/>
<rect x="516.3" y="2305.8" width="73" height="2.7" fill="#9366ac"/>
<rect x="516.3" y="2308.5" width="73" height="1.8" fill="#d33428"/>
<rect x="516.3" y="2310.3" width="73" height="6.2" fill="#2fae49"/>
<rect x="516.3" y="2316.5" width="73" height="52.5" fill="#f9be84"/>
<rect x="516.3" y="2369" width="73" height="16.5" fill="#2f7bbb"/>
<rect x="516.3" y="2385.5" width="73" height="8" fill="#f4b6d2"/>
<rect x="516.3" y="2393.5" width="73" height="23.8" fill="#d277b2"/>
<rect x="516.3" y="2417.3" width="73" height="12.5" fill="#c39b93"/>
<line x1="516.3" y1="2305.8" x2="589.3" y2="2305.8" stroke="#242424" stroke-width="1.35"/>
<line x1="516.3" y1="2308.5" x2="589.3" y2="2308.5" stroke="#242424" stroke-width="1.35"/>
<line x1="516.3" y1="2310.3" x2="589.3" y2="2310.3" stroke="#242424" stroke-width="1.35"/>
<line x1="516.3" y1="2316.5" x2="589.3" y2="2316.5" stroke="#242424" stroke-width="1.35"/>
<line x1="516.3" y1="2369" x2="589.3" y2="2369" stroke="#242424" stroke-width="1.35"/>
<line x1="516.3" y1="2385.5" x2="589.3" y2="2385.5" stroke="#242424" stroke-width="1.35"/>
<line x1="516.3" y1="2393.5" x2="589.3" y2="2393.5" stroke="#242424" stroke-width="1.35"/>
<line x1="516.3" y1="2417.3" x2="589.3" y2="2417.3" stroke="#242424" stroke-width="1.35"/>
<rect x="516.3" y="2293.1" width="73" height="136.7" fill="none" stroke="#242424" stroke-width="1.35"/>
</g>
<g>
<rect x="597" y="2247.4" width="73" height="16.8" fill="#c2bf33"/>
<rect x="597" y="2264.2" width="73" height="13.3" fill="#9366ac"/>
<rect x="597" y="2277.5" width="73" height="3" fill="#d33428"/>
<rect x="597" y="2280.5" width="73" height="5.9" fill="#2fae49"/>
<rect x="597" y="2286.4" width="73" height="70.2" fill="#f9be84"/>
<rect x="597" y="2356.6" width="73" height="21.8" fill="#2f7bbb"/>
<rect x="597" y="2378.4" width="73" height="10.6" fill="#f4b6d2"/>
<rect x="597" y="2389" width="73" height="27.5" fill="#d277b2"/>
<rect x="597" y="2416.5" width="73" height="13.3" fill="#c39b93"/>
<line x1="597" y1="2264.2" x2="670" y2="2264.2" stroke="#242424" stroke-width="1.35"/>
<line x1="597" y1="2277.5" x2="670" y2="2277.5" stroke="#242424" stroke-width="1.35"/>
<line x1="597" y1="2280.5" x2="670" y2="2280.5" stroke="#242424" stroke-width="1.35"/>
<line x1="597" y1="2286.4" x2="670" y2="2286.4" stroke="#242424" stroke-width="1.35"/>
<line x1="597" y1="2356.6" x2="670" y2="2356.6" stroke="#242424" stroke-width="1.35"/>
<line x1="597" y1="2378.4" x2="670" y2="2378.4" stroke="#242424" stroke-width="1.35"/>
<line x1="597" y1="2389" x2="670" y2="2389" stroke="#242424" stroke-width="1.35"/>
<line x1="597" y1="2416.5" x2="670" y2="2416.5" stroke="#242424" stroke-width="1.35"/>
<rect x="597" y="2247.4" width="73" height="182.4" fill="none" stroke="#242424" stroke-width="1.35"/>
</g>
<line x1="109.5" y1="2234.1" x2="109.5" y2="2436.7" stroke="#111" stroke-width="2.6"/>
<line x1="102" y1="2430.2" x2="674.3" y2="2430.2" stroke="#111" stroke-width="2.6"/>
<line x1="673" y1="2428.9" x2="673" y2="2436.7" stroke="#111" stroke-width="2.6"/>
<line x1="149.3" y1="2430.2" x2="149.3" y2="2436.2" stroke="#111" stroke-width="2.6"/>
<line x1="230" y1="2430.2" x2="230" y2="2436.2" stroke="#111" stroke-width="2.6"/>
<line x1="310.7" y1="2430.2" x2="310.7" y2="2436.2" stroke="#111" stroke-width="2.6"/>
<line x1="391.4" y1="2430.2" x2="391.4" y2="2436.2" stroke="#111" stroke-width="2.6"/>
<line x1="472.1" y1="2430.2" x2="472.1" y2="2436.2" stroke="#111" stroke-width="2.6"/>
<line x1="552.8" y1="2430.2" x2="552.8" y2="2436.2" stroke="#111" stroke-width="2.6"/>
<line x1="633.5" y1="2430.2" x2="633.5" y2="2436.2" stroke="#111" stroke-width="2.6"/>
<line x1="102" y1="2430.2" x2="109.5" y2="2430.2" stroke="#111" stroke-width="2.6"/>
<text x="78.5" y="2434" font-size="29.18" text-anchor="middle" textLength="15.57" lengthAdjust="spacingAndGlyphs">0</text>
<line x1="102" y1="2341" x2="109.5" y2="2341" stroke="#111" stroke-width="2.6"/>
<text x="78.5" y="2344.8" font-size="29.18" text-anchor="middle" textLength="15.57" lengthAdjust="spacingAndGlyphs">5</text>
<line x1="102" y1="2251.8" x2="109.5" y2="2251.8" stroke="#111" stroke-width="2.6"/>
<text x="78.5" y="2255.6" font-size="29.18" text-anchor="middle" textLength="31.15" lengthAdjust="spacingAndGlyphs">10</text>
<line x1="111.3" y1="2566.3" x2="673" y2="2566.3" stroke="#dcdcdc" stroke-width="1.3"/>
<line x1="111.3" y1="2477.3" x2="673" y2="2477.3" stroke="#dcdcdc" stroke-width="1.3"/>
<line x1="149.45" y1="2465.3" x2="149.45" y2="2655.3" stroke="#dcdcdc" stroke-width="1.3"/>
<line x1="230.18" y1="2465.3" x2="230.18" y2="2655.3" stroke="#dcdcdc" stroke-width="1.3"/>
<line x1="310.91" y1="2465.3" x2="310.91" y2="2655.3" stroke="#dcdcdc" stroke-width="1.3"/>
<line x1="391.64" y1="2465.3" x2="391.64" y2="2655.3" stroke="#dcdcdc" stroke-width="1.3"/>
<line x1="472.37" y1="2465.3" x2="472.37" y2="2655.3" stroke="#dcdcdc" stroke-width="1.3"/>
<line x1="553.1" y1="2465.3" x2="553.1" y2="2655.3" stroke="#dcdcdc" stroke-width="1.3"/>
<line x1="633.83" y1="2465.3" x2="633.83" y2="2655.3" stroke="#dcdcdc" stroke-width="1.3"/>
<g>
<rect x="112.8" y="2498.2" width="73.3" height="15.9" fill="#c6c6c6"/>
<rect x="112.8" y="2514.1" width="73.3" height="29.6" fill="#2f7bbb"/>
<rect x="112.8" y="2543.7" width="73.3" height="81.6" fill="#e0de93"/>
<rect x="112.8" y="2625.3" width="73.3" height="3.8" fill="#88564b"/>
<rect x="112.8" y="2629.1" width="73.3" height="19.5" fill="#9366ac"/>
<rect x="112.8" y="2648.6" width="73.3" height="6.4" fill="#d33428"/>
<line x1="112.8" y1="2514.1" x2="186.1" y2="2514.1" stroke="#242424" stroke-width="1.35"/>
<line x1="112.8" y1="2543.7" x2="186.1" y2="2543.7" stroke="#242424" stroke-width="1.35"/>
<line x1="112.8" y1="2625.3" x2="186.1" y2="2625.3" stroke="#242424" stroke-width="1.35"/>
<line x1="112.8" y1="2629.1" x2="186.1" y2="2629.1" stroke="#242424" stroke-width="1.35"/>
<line x1="112.8" y1="2648.6" x2="186.1" y2="2648.6" stroke="#242424" stroke-width="1.35"/>
<rect x="112.8" y="2498.2" width="73.3" height="156.8" fill="none" stroke="#242424" stroke-width="1.35"/>
</g>
<g>
<rect x="193.53" y="2584.6" width="73.3" height="7.9" fill="#c6c6c6"/>
<rect x="193.53" y="2592.5" width="73.3" height="22" fill="#2f7bbb"/>
<rect x="193.53" y="2614.5" width="73.3" height="29.8" fill="#e0de93"/>
<rect x="193.53" y="2644.3" width="73.3" height="2.5" fill="#9366ac"/>
<rect x="193.53" y="2646.8" width="73.3" height="8.2" fill="#d33428"/>
<line x1="193.53" y1="2592.5" x2="266.83" y2="2592.5" stroke="#242424" stroke-width="1.35"/>
<line x1="193.53" y1="2614.5" x2="266.83" y2="2614.5" stroke="#242424" stroke-width="1.35"/>
<line x1="193.53" y1="2644.3" x2="266.83" y2="2644.3" stroke="#242424" stroke-width="1.35"/>
<line x1="193.53" y1="2646.8" x2="266.83" y2="2646.8" stroke="#242424" stroke-width="1.35"/>
<rect x="193.53" y="2584.6" width="73.3" height="70.4" fill="none" stroke="#242424" stroke-width="1.35"/>
</g>
<g>
<rect x="274.26" y="2483.5" width="73.3" height="19.7" fill="#c6c6c6"/>
<rect x="274.26" y="2503.2" width="73.3" height="24.8" fill="#2f7bbb"/>
<rect x="274.26" y="2528" width="73.3" height="89" fill="#e0de93"/>
<rect x="274.26" y="2617" width="73.3" height="26.5" fill="#9366ac"/>
<rect x="274.26" y="2643.5" width="73.3" height="11.5" fill="#d33428"/>
<line x1="274.26" y1="2503.2" x2="347.56" y2="2503.2" stroke="#242424" stroke-width="1.35"/>
<line x1="274.26" y1="2528" x2="347.56" y2="2528" stroke="#242424" stroke-width="1.35"/>
<line x1="274.26" y1="2617" x2="347.56" y2="2617" stroke="#242424" stroke-width="1.35"/>
<line x1="274.26" y1="2643.5" x2="347.56" y2="2643.5" stroke="#242424" stroke-width="1.35"/>
<rect x="274.26" y="2483.5" width="73.3" height="171.5" fill="none" stroke="#242424" stroke-width="1.35"/>
</g>
<g>
<rect x="354.99" y="2588.4" width="73.3" height="9.1" fill="#c6c6c6"/>
<rect x="354.99" y="2597.5" width="73.3" height="18.7" fill="#2f7bbb"/>
<rect x="354.99" y="2616.2" width="73.3" height="25.3" fill="#e0de93"/>
<rect x="354.99" y="2641.5" width="73.3" height="2.8" fill="#9366ac"/>
<rect x="354.99" y="2644.3" width="73.3" height="10.7" fill="#d33428"/>
<line x1="354.99" y1="2597.5" x2="428.29" y2="2597.5" stroke="#242424" stroke-width="1.35"/>
<line x1="354.99" y1="2616.2" x2="428.29" y2="2616.2" stroke="#242424" stroke-width="1.35"/>
<line x1="354.99" y1="2641.5" x2="428.29" y2="2641.5" stroke="#242424" stroke-width="1.35"/>
<line x1="354.99" y1="2644.3" x2="428.29" y2="2644.3" stroke="#242424" stroke-width="1.35"/>
<rect x="354.99" y="2588.4" width="73.3" height="66.6" fill="none" stroke="#242424" stroke-width="1.35"/>
</g>
<g>
<rect x="435.72" y="2514.3" width="73.3" height="20" fill="#c6c6c6"/>
<rect x="435.72" y="2534.3" width="73.3" height="29.9" fill="#2f7bbb"/>
<rect x="435.72" y="2564.2" width="73.3" height="57.5" fill="#e0de93"/>
<rect x="435.72" y="2621.7" width="73.3" height="21.8" fill="#9366ac"/>
<rect x="435.72" y="2643.5" width="73.3" height="11.5" fill="#d33428"/>
<line x1="435.72" y1="2534.3" x2="509.02" y2="2534.3" stroke="#242424" stroke-width="1.35"/>
<line x1="435.72" y1="2564.2" x2="509.02" y2="2564.2" stroke="#242424" stroke-width="1.35"/>
<line x1="435.72" y1="2621.7" x2="509.02" y2="2621.7" stroke="#242424" stroke-width="1.35"/>
<line x1="435.72" y1="2643.5" x2="509.02" y2="2643.5" stroke="#242424" stroke-width="1.35"/>
<rect x="435.72" y="2514.3" width="73.3" height="140.7" fill="none" stroke="#242424" stroke-width="1.35"/>
</g>
<g>
<rect x="516.45" y="2568" width="73.3" height="17.6" fill="#c6c6c6"/>
<rect x="516.45" y="2585.6" width="73.3" height="23.8" fill="#2f7bbb"/>
<rect x="516.45" y="2609.4" width="73.3" height="32.2" fill="#e0de93"/>
<rect x="516.45" y="2641.6" width="73.3" height="2.7" fill="#9366ac"/>
<rect x="516.45" y="2644.3" width="73.3" height="10.7" fill="#d33428"/>
<line x1="516.45" y1="2585.6" x2="589.75" y2="2585.6" stroke="#242424" stroke-width="1.35"/>
<line x1="516.45" y1="2609.4" x2="589.75" y2="2609.4" stroke="#242424" stroke-width="1.35"/>
<line x1="516.45" y1="2641.6" x2="589.75" y2="2641.6" stroke="#242424" stroke-width="1.35"/>
<line x1="516.45" y1="2644.3" x2="589.75" y2="2644.3" stroke="#242424" stroke-width="1.35"/>
<rect x="516.45" y="2568" width="73.3" height="87" fill="none" stroke="#242424" stroke-width="1.35"/>
</g>
<g>
<rect x="597.18" y="2491.2" width="73.3" height="21.2" fill="#c6c6c6"/>
<rect x="597.18" y="2512.4" width="73.3" height="30" fill="#2f7bbb"/>
<rect x="597.18" y="2542.4" width="73.3" height="57.8" fill="#e0de93"/>
<rect x="597.18" y="2600.2" width="73.3" height="1.4" fill="#88564b"/>
<rect x="597.18" y="2601.6" width="73.3" height="42.8" fill="#9366ac"/>
<rect x="597.18" y="2644.4" width="73.3" height="10.6" fill="#d33428"/>
<line x1="597.18" y1="2512.4" x2="670.48" y2="2512.4" stroke="#242424" stroke-width="1.35"/>
<line x1="597.18" y1="2542.4" x2="670.48" y2="2542.4" stroke="#242424" stroke-width="1.35"/>
<line x1="597.18" y1="2600.2" x2="670.48" y2="2600.2" stroke="#242424" stroke-width="1.35"/>
<line x1="597.18" y1="2601.6" x2="670.48" y2="2601.6" stroke="#242424" stroke-width="1.35"/>
<line x1="597.18" y1="2644.4" x2="670.48" y2="2644.4" stroke="#242424" stroke-width="1.35"/>
<rect x="597.18" y="2491.2" width="73.3" height="163.8" fill="none" stroke="#242424" stroke-width="1.35"/>
</g>
<line x1="111.3" y1="2465.3" x2="111.3" y2="2661.8" stroke="#111" stroke-width="2.6"/>
<line x1="103.8" y1="2655.3" x2="674.3" y2="2655.3" stroke="#111" stroke-width="2.6"/>
<line x1="673" y1="2654" x2="673" y2="2661.8" stroke="#111" stroke-width="2.6"/>
<line x1="149.45" y1="2655.3" x2="149.45" y2="2661.3" stroke="#111" stroke-width="2.6"/>
<line x1="230.18" y1="2655.3" x2="230.18" y2="2661.3" stroke="#111" stroke-width="2.6"/>
<line x1="310.91" y1="2655.3" x2="310.91" y2="2661.3" stroke="#111" stroke-width="2.6"/>
<line x1="391.64" y1="2655.3" x2="391.64" y2="2661.3" stroke="#111" stroke-width="2.6"/>
<line x1="472.37" y1="2655.3" x2="472.37" y2="2661.3" stroke="#111" stroke-width="2.6"/>
<line x1="553.1" y1="2655.3" x2="553.1" y2="2661.3" stroke="#111" stroke-width="2.6"/>
<line x1="633.83" y1="2655.3" x2="633.83" y2="2661.3" stroke="#111" stroke-width="2.6"/>
<line x1="103.8" y1="2655.3" x2="111.3" y2="2655.3" stroke="#111" stroke-width="2.6"/>
<text x="80" y="2659.1" font-size="29.18" text-anchor="middle" textLength="15.57" lengthAdjust="spacingAndGlyphs">0</text>
<line x1="103.8" y1="2566.3" x2="111.3" y2="2566.3" stroke="#111" stroke-width="2.6"/>
<text x="80" y="2570.1" font-size="29.18" text-anchor="middle" textLength="15.57" lengthAdjust="spacingAndGlyphs">5</text>
<line x1="103.8" y1="2477.3" x2="111.3" y2="2477.3" stroke="#111" stroke-width="2.6"/>
<text x="80" y="2481.1" font-size="29.18" text-anchor="middle" textLength="31.15" lengthAdjust="spacingAndGlyphs">10</text>
<text x="0" y="0" font-size="40" textLength="582.4" lengthAdjust="spacingAndGlyphs" transform="translate(32.6 1504.8) rotate(-90)" fill="#111">Relative abundance (% of total reads)</text>
<text x="160.6" y="2697.8" font-size="28" text-anchor="middle" transform="rotate(45 160.6 2688)" fill="#111">14</text>
<text x="232.4" y="2692.1" font-size="28" text-anchor="middle" transform="rotate(45 232.4 2682.3)" fill="#111">2</text>
<text x="315.6" y="2692.4" font-size="28" text-anchor="middle" transform="rotate(45 315.6 2682.6)" fill="#111">4</text>
<text x="395.4" y="2690.5" font-size="28" text-anchor="middle" transform="rotate(45 395.4 2680.7)" fill="#111">5</text>
<text x="476.3" y="2690.2" font-size="28" text-anchor="middle" transform="rotate(45 476.3 2680.4)" fill="#111">6</text>
<text x="563" y="2697.8" font-size="28" text-anchor="middle" transform="rotate(45 563 2688)" fill="#111">11</text>
<text x="644.8" y="2698.7" font-size="28" text-anchor="middle" transform="rotate(45 644.8 2688.9)" fill="#111">13</text>
<text x="293.01" y="2740.3" font-size="39.6" textLength="176.46" lengthAdjust="spacingAndGlyphs">Push Core</text>
<text x="704.03" y="61.2" font-size="40.33" font-weight="bold" textLength="171.83" lengthAdjust="spacingAndGlyphs">Alveolata</text>
<circle cx="705.2" cy="103.5" r="8.7" fill="#88564b" stroke="#8e8e8e" stroke-width="2.6"/>
<text x="724" y="115" font-size="30.22" font-weight="bold" textLength="11.29" lengthAdjust="spacingAndGlyphs">*</text>
<text x="723" y="142.67" font-size="25.63" textLength="147.7" lengthAdjust="spacingAndGlyphs">Alveolata_XX</text>
<circle cx="705.2" cy="167.84" r="8.7" fill="#c39b93" stroke="#8e8e8e" stroke-width="2.6"/>
<text x="723" y="174.84" font-size="25.63" textLength="170.93" lengthAdjust="spacingAndGlyphs">Apicomplexa_X</text>
<text x="723" y="207.01" font-size="25.63" textLength="135.38" lengthAdjust="spacingAndGlyphs">Armophorea</text>
<circle cx="705.2" cy="232.18" r="8.7" fill="#d277b2" stroke="#8e8e8e" stroke-width="2.6"/>
<text x="723" y="239.18" font-size="25.63" textLength="158.61" lengthAdjust="spacingAndGlyphs">Cariacotrichea</text>
<circle cx="705.2" cy="264.35" r="8.7" fill="#f4b6d2" stroke="#8e8e8e" stroke-width="2.6"/>
<text x="723" y="271.35" font-size="25.63" textLength="140.86" lengthAdjust="spacingAndGlyphs">Ciliophora_X</text>
<text x="723" y="303.52" font-size="25.63" textLength="132.64" lengthAdjust="spacingAndGlyphs">Ciliophora-4</text>
<circle cx="705.2" cy="328.69" r="8.7" fill="#2f7bbb" stroke="#8e8e8e" stroke-width="2.6"/>
<text x="723" y="335.69" font-size="25.63" textLength="132.64" lengthAdjust="spacingAndGlyphs">Ciliophora-5</text>
<text x="723" y="367.86" font-size="25.63" textLength="132.64" lengthAdjust="spacingAndGlyphs">Ciliophora-6</text>
<circle cx="705.2" cy="393.03" r="8.7" fill="#b3c8e8" stroke="#8e8e8e" stroke-width="2.6"/>
<text x="723" y="400.03" font-size="25.63" textLength="132.64" lengthAdjust="spacingAndGlyphs">Ciliophora-7</text>
<circle cx="705.2" cy="425.2" r="8.7" fill="#f2831f" stroke="#8e8e8e" stroke-width="2.6"/>
<text x="723" y="432.2" font-size="25.63" textLength="105.32" lengthAdjust="spacingAndGlyphs">Colpodea</text>
<circle cx="705.2" cy="457.37" r="8.7" fill="#f9be84" stroke="#8e8e8e" stroke-width="2.6"/>
<text x="723" y="464.37" font-size="25.63" textLength="143.6" lengthAdjust="spacingAndGlyphs">Dinophyceae</text>
<text x="723" y="496.54" font-size="25.63" textLength="140.87" lengthAdjust="spacingAndGlyphs">Dinophyta_X</text>
<circle cx="705.2" cy="521.71" r="8.7" fill="#2fae49" stroke="#8e8e8e" stroke-width="2.6"/>
<text x="723" y="528.71" font-size="25.63" textLength="146.35" lengthAdjust="spacingAndGlyphs">Ellobiopsidae</text>
<circle cx="705.2" cy="553.88" r="8.7" fill="#b4d98e" stroke="#8e8e8e" stroke-width="2.6"/>
<text x="723" y="560.88" font-size="25.63" textLength="147.68" lengthAdjust="spacingAndGlyphs">Heterotrichea</text>
<circle cx="705.2" cy="586.05" r="8.7" fill="#d33428" stroke="#8e8e8e" stroke-width="2.6"/>
<text x="723" y="593.05" font-size="25.63" textLength="143.57" lengthAdjust="spacingAndGlyphs">Karyorelictea</text>
<circle cx="705.2" cy="618.22" r="8.7" fill="#f59fa5" stroke="#8e8e8e" stroke-width="2.6"/>
<text x="723" y="625.22" font-size="25.63" textLength="140.85" lengthAdjust="spacingAndGlyphs">Litostomatea</text>
<circle cx="705.2" cy="650.39" r="8.7" fill="#9366ac" stroke="#8e8e8e" stroke-width="2.6"/>
<text x="723" y="657.39" font-size="25.63" textLength="146.33" lengthAdjust="spacingAndGlyphs">Nassophorea</text>
<circle cx="705.2" cy="682.56" r="8.7" fill="#ccb2d7" stroke="#8e8e8e" stroke-width="2.6"/>
<text x="723" y="689.56" font-size="25.63" textLength="221.55" lengthAdjust="spacingAndGlyphs">Oligohymenophorea</text>
<circle cx="705.2" cy="714.73" r="8.7" fill="#c2bf33" stroke="#8e8e8e" stroke-width="2.6"/>
<text x="723" y="721.73" font-size="25.63" textLength="114.86" lengthAdjust="spacingAndGlyphs">Perkinsida</text>
<circle cx="705.2" cy="746.9" r="8.7" fill="#e0de93" stroke="#8e8e8e" stroke-width="2.6"/>
<text x="723" y="753.9" font-size="25.63" textLength="183.27" lengthAdjust="spacingAndGlyphs">Phyllopharyngea</text>
<circle cx="705.2" cy="779.07" r="8.7" fill="#61c6d5" stroke="#8e8e8e" stroke-width="2.6"/>
<text x="723" y="786.07" font-size="25.63" textLength="127.2" lengthAdjust="spacingAndGlyphs">Plagiopylea</text>
<circle cx="705.2" cy="811.24" r="8.7" fill="#b5dfe6" stroke="#8e8e8e" stroke-width="2.6"/>
<text x="723" y="818.24" font-size="25.63" textLength="139.47" lengthAdjust="spacingAndGlyphs">Prostomatea</text>
<circle cx="705.2" cy="843.41" r="8.7" fill="#7a7b7b" stroke="#8e8e8e" stroke-width="2.6"/>
<text x="723" y="850.41" font-size="25.63" textLength="131.27" lengthAdjust="spacingAndGlyphs">Spirotrichea</text>
<circle cx="705.2" cy="875.58" r="8.7" fill="#c6c6c6" stroke="#8e8e8e" stroke-width="2.6"/>
<text x="723" y="882.58" font-size="25.63" textLength="125.82" lengthAdjust="spacingAndGlyphs">Syndiniales</text>
<text x="703.83" y="1030.1" font-size="40.33" font-weight="bold" textLength="246.08" lengthAdjust="spacingAndGlyphs">Stramenopila</text>
<circle cx="698.6" cy="1061.9" r="8.7" fill="#88564b" stroke="#8e8e8e" stroke-width="2.6"/>
<text x="718.9" y="1073" font-size="30.22" font-weight="bold" textLength="11.29" lengthAdjust="spacingAndGlyphs">*</text>
<circle cx="698.6" cy="1094.08" r="8.7" fill="#d277b2" stroke="#8e8e8e" stroke-width="2.6"/>
<text x="717.8" y="1101.08" font-size="25.63" textLength="273.43" lengthAdjust="spacingAndGlyphs">Bacillariophyta (Diatoms)</text>
<circle cx="698.6" cy="1126.26" r="8.7" fill="#c6c6c6" stroke="#8e8e8e" stroke-width="2.6"/>
<text x="717.8" y="1133.26" font-size="25.63" textLength="101.2" lengthAdjust="spacingAndGlyphs">Bicoecea</text>
<circle cx="698.6" cy="1158.44" r="8.7" fill="#2f7bbb" stroke="#8e8e8e" stroke-width="2.6"/>
<text x="717.8" y="1165.44" font-size="25.63" textLength="310.43" lengthAdjust="spacingAndGlyphs">Bolidophyceae-and-relatives</text>
<text x="717.8" y="1197.62" font-size="25.63" textLength="226.98" lengthAdjust="spacingAndGlyphs">Chrysomerophyceae</text>
<circle cx="698.6" cy="1222.8" r="8.7" fill="#b3c8e8" stroke="#8e8e8e" stroke-width="2.6"/>
<text x="717.8" y="1229.8" font-size="25.63" textLength="350.08" lengthAdjust="spacingAndGlyphs">Chrysophyceae-Synurophyceae</text>
<circle cx="698.6" cy="1254.98" r="8.7" fill="#f2831f" stroke="#8e8e8e" stroke-width="2.6"/>
<text x="717.8" y="1261.98" font-size="25.63" textLength="201.02" lengthAdjust="spacingAndGlyphs">Dictyochophyceae</text>
<text x="717.8" y="1294.16" font-size="25.63" textLength="216.07" lengthAdjust="spacingAndGlyphs">Eustigmatophyceae</text>
<circle cx="698.6" cy="1319.34" r="8.7" fill="#f9be84" stroke="#8e8e8e" stroke-width="2.6"/>
<text x="717.8" y="1326.34" font-size="25.63" textLength="222.86" lengthAdjust="spacingAndGlyphs">Hyphochytriomyceta</text>
<circle cx="698.6" cy="1351.52" r="8.7" fill="#b4d98e" stroke="#8e8e8e" stroke-width="2.6"/>
<text x="717.8" y="1358.52" font-size="25.63" textLength="225.62" lengthAdjust="spacingAndGlyphs">Labyrinthulomycetes</text>
<text x="717.8" y="1390.7" font-size="25.63" textLength="385.58" lengthAdjust="spacingAndGlyphs">Labyrinthulomycetes-Amphitremida</text>
<circle cx="698.6" cy="1415.88" r="8.7" fill="#d33428" stroke="#8e8e8e" stroke-width="2.6"/>
<text x="717.8" y="1422.88" font-size="25.63" textLength="68.34" lengthAdjust="spacingAndGlyphs">MAST</text>
<circle cx="698.6" cy="1448.06" r="8.7" fill="#f59fa5" stroke="#8e8e8e" stroke-width="2.6"/>
<text x="717.8" y="1455.06" font-size="25.63" textLength="75.16" lengthAdjust="spacingAndGlyphs">MOCH</text>
<text x="717.8" y="1487.24" font-size="25.63" textLength="157.26" lengthAdjust="spacingAndGlyphs">Ochrophyta_X</text>
<circle cx="702.2" cy="1509.8" r="8.7" fill="#9366ac" stroke="#8e8e8e" stroke-width="2.6"/>
<text x="719.7" y="1516.8" font-size="25.63" textLength="112.11" lengthAdjust="spacingAndGlyphs">Oomycota</text>
<circle cx="702.2" cy="1542.13" r="8.7" fill="#ccb2d7" stroke="#8e8e8e" stroke-width="2.6"/>
<text x="719.7" y="1549.13" font-size="25.63" textLength="105.31" lengthAdjust="spacingAndGlyphs">Opalinata</text>
<circle cx="702.2" cy="1574.46" r="8.7" fill="#c2bf33" stroke="#8e8e8e" stroke-width="2.6"/>
<text x="719.7" y="1581.46" font-size="25.63" textLength="169.61" lengthAdjust="spacingAndGlyphs">Pelagophyceae</text>
<text x="719.7" y="1613.79" font-size="25.63" textLength="164.15" lengthAdjust="spacingAndGlyphs">Phaeophyceae</text>
<text x="719.7" y="1646.12" font-size="25.63" textLength="251.67" lengthAdjust="spacingAndGlyphs">Phaeothamniophyceae</text>
<circle cx="702.2" cy="1671.45" r="8.7" fill="#7a7b7b" stroke="#8e8e8e" stroke-width="2.6"/>
<text x="719.7" y="1678.45" font-size="25.63" textLength="88.88" lengthAdjust="spacingAndGlyphs">Pirsonia</text>
<text x="719.7" y="1710.78" font-size="25.63" textLength="184.65" lengthAdjust="spacingAndGlyphs">Raphidophyceae</text>
<text x="719.7" y="1743.11" font-size="25.63" textLength="285.78" lengthAdjust="spacingAndGlyphs">Stramenopiles_X-Group-2</text>
<text x="719.7" y="1775.44" font-size="25.63" textLength="285.78" lengthAdjust="spacingAndGlyphs">Stramenopiles_X-Group-3</text>
<text x="719.7" y="1807.77" font-size="25.63" textLength="285.78" lengthAdjust="spacingAndGlyphs">Stramenopiles_X-Group-4</text>
<circle cx="702.2" cy="1833.1" r="8.7" fill="#61c6d5" stroke="#8e8e8e" stroke-width="2.6"/>
<text x="719.7" y="1840.1" font-size="25.63" textLength="285.78" lengthAdjust="spacingAndGlyphs">Stramenopiles_X-Group-7</text>
<circle cx="702.2" cy="1865.43" r="8.7" fill="#b5dfe6" stroke="#8e8e8e" stroke-width="2.6"/>
<text x="719.7" y="1872.43" font-size="25.63" textLength="203.75" lengthAdjust="spacingAndGlyphs">Stramenopiles_XX</text>
<text x="719.7" y="1904.76" font-size="25.63" textLength="170.98" lengthAdjust="spacingAndGlyphs">Xanthophyceae</text>
<text x="703.48" y="1963.8" font-size="40.33" font-weight="bold" textLength="150.84" lengthAdjust="spacingAndGlyphs">Rhizaria</text>
<circle cx="705.2" cy="1992.8" r="8.7" fill="#2f7bbb" stroke="#8e8e8e" stroke-width="2.6"/>
<text x="725.6" y="2005" font-size="30.22" font-weight="bold" textLength="11.29" lengthAdjust="spacingAndGlyphs">*</text>
<circle cx="705.2" cy="2024.98" r="8.7" fill="#b3c8e8" stroke="#8e8e8e" stroke-width="2.6"/>
<text x="724.2" y="2031.98" font-size="25.63" textLength="125.83" lengthAdjust="spacingAndGlyphs">Acantharea</text>
<circle cx="705.2" cy="2057.16" r="8.7" fill="#f2831f" stroke="#8e8e8e" stroke-width="2.6"/>
<text x="724.2" y="2064.16" font-size="25.63" textLength="135.38" lengthAdjust="spacingAndGlyphs">Cercozoa_X</text>
<circle cx="705.2" cy="2089.34" r="8.7" fill="#f9be84" stroke="#8e8e8e" stroke-width="2.6"/>
<text x="724.2" y="2096.34" font-size="25.63" textLength="116.23" lengthAdjust="spacingAndGlyphs">Endomyxa</text>
<text x="724.2" y="2128.52" font-size="25.63" textLength="274.85" lengthAdjust="spacingAndGlyphs">Endomyxa-Ascetosporea</text>
<circle cx="705.2" cy="2153.7" r="8.7" fill="#2fae49" stroke="#8e8e8e" stroke-width="2.6"/>
<text x="724.2" y="2160.7" font-size="25.63" textLength="237.9" lengthAdjust="spacingAndGlyphs">Endomyxa-Gromiidea</text>
<circle cx="705.2" cy="2185.88" r="8.7" fill="#b4d98e" stroke="#8e8e8e" stroke-width="2.6"/>
<text x="724.2" y="2192.88" font-size="25.63" textLength="259.79" lengthAdjust="spacingAndGlyphs">Endomyxa-Phytomyxea</text>
<circle cx="1017.7" cy="1990.5" r="8.7" fill="#d33428" stroke="#8e8e8e" stroke-width="2.6"/>
<text x="1035" y="1997.5" font-size="25.63" textLength="65.62" lengthAdjust="spacingAndGlyphs">Filosa</text>
<circle cx="1017.7" cy="2022.92" r="8.7" fill="#f59fa5" stroke="#8e8e8e" stroke-width="2.6"/>
<text x="1035" y="2029.92" font-size="25.63" textLength="235.19" lengthAdjust="spacingAndGlyphs">Filosa-Chlorarachnea</text>
<circle cx="1017.7" cy="2055.34" r="8.7" fill="#9366ac" stroke="#8e8e8e" stroke-width="2.6"/>
<text x="1035" y="2062.34" font-size="25.63" textLength="213.3" lengthAdjust="spacingAndGlyphs">Filosa-Granofilosea</text>
<circle cx="1017.7" cy="2087.76" r="8.7" fill="#ccb2d7" stroke="#8e8e8e" stroke-width="2.6"/>
<text x="1035" y="2094.76" font-size="25.63" textLength="188.66" lengthAdjust="spacingAndGlyphs">Filosa-Imbricatea</text>
<text x="1035" y="2127.18" font-size="25.63" textLength="239.28" lengthAdjust="spacingAndGlyphs">Filosa-Metromonadea</text>
<text x="1035" y="2159.6" font-size="25.63" textLength="207.87" lengthAdjust="spacingAndGlyphs">Filosa-Phaeodarea</text>
<circle cx="1017.7" cy="2185.02" r="8.7" fill="#c2bf33" stroke="#8e8e8e" stroke-width="2.6"/>
<text x="1035" y="2192.02" font-size="25.63" textLength="240.66" lengthAdjust="spacingAndGlyphs">Filosa-Sarcomonadea</text>
<circle cx="1297.6" cy="1990.5" r="8.7" fill="#e0de93" stroke="#8e8e8e" stroke-width="2.6"/>
<text x="1314.8" y="1997.5" font-size="25.63" textLength="213.3" lengthAdjust="spacingAndGlyphs">Filosa-Thecofilosea</text>
<circle cx="1297.6" cy="2022.92" r="8.7" fill="#61c6d5" stroke="#8e8e8e" stroke-width="2.6"/>
<text x="1314.8" y="2029.92" font-size="25.63" textLength="206.48" lengthAdjust="spacingAndGlyphs">Novel-Clade-10-12</text>
<circle cx="1297.6" cy="2055.34" r="8.7" fill="#b5dfe6" stroke="#8e8e8e" stroke-width="2.6"/>
<text x="1314.8" y="2062.34" font-size="25.63" textLength="138.1" lengthAdjust="spacingAndGlyphs">Polycystinea</text>
<text x="1314.8" y="2094.76" font-size="25.63" textLength="76.54" lengthAdjust="spacingAndGlyphs">RAD-A</text>
<circle cx="1297.6" cy="2120.18" r="8.7" fill="#7a7b7b" stroke="#8e8e8e" stroke-width="2.6"/>
<text x="1314.8" y="2127.18" font-size="25.63" textLength="76.54" lengthAdjust="spacingAndGlyphs">RAD-B</text>
<text x="1314.8" y="2159.6" font-size="25.63" textLength="77.9" lengthAdjust="spacingAndGlyphs">RAD-C</text>
<circle cx="1297.6" cy="2185.02" r="8.7" fill="#c6c6c6" stroke="#8e8e8e" stroke-width="2.6"/>
<text x="1314.8" y="2192.02" font-size="25.63" textLength="140.86" lengthAdjust="spacingAndGlyphs">Radiolaria_X</text>
<text x="703.76" y="2242.5" font-size="40.33" font-weight="bold" textLength="248.84" lengthAdjust="spacingAndGlyphs">Opisthokonta</text>
<circle cx="705.3" cy="2274.4" r="8.7" fill="#88564b" stroke="#8e8e8e" stroke-width="2.6"/>
<text x="727.4" y="2288.8" font-size="30.22" font-weight="bold" textLength="11.29" lengthAdjust="spacingAndGlyphs">*</text>
<circle cx="705.3" cy="2306.76" r="8.7" fill="#c39b93" stroke="#8e8e8e" stroke-width="2.6"/>
<text x="725.8" y="2313.76" font-size="25.63" textLength="153.13" lengthAdjust="spacingAndGlyphs">Ascomycota**</text>
<circle cx="705.3" cy="2339.12" r="8.7" fill="#d277b2" stroke="#8e8e8e" stroke-width="2.6"/>
<text x="725.8" y="2346.12" font-size="25.63" textLength="179.12" lengthAdjust="spacingAndGlyphs">Basidiomycota**</text>
<text x="725.8" y="2378.48" font-size="25.63" textLength="231.09" lengthAdjust="spacingAndGlyphs">Blastocladiomycota**</text>
<circle cx="705.3" cy="2403.84" r="8.7" fill="#f4b6d2" stroke="#8e8e8e" stroke-width="2.6"/>
<text x="725.8" y="2410.84" font-size="25.63" textLength="217.48" lengthAdjust="spacingAndGlyphs">Choanoflagellatea**</text>
<text x="725.8" y="2443.2" font-size="25.63" textLength="213.37" lengthAdjust="spacingAndGlyphs">Choanoflagellida_X</text>
<circle cx="705.3" cy="2468.56" r="8.7" fill="#2f7bbb" stroke="#8e8e8e" stroke-width="2.6"/>
<text x="725.8" y="2475.56" font-size="25.63" textLength="176.36" lengthAdjust="spacingAndGlyphs">Chytridiomycota</text>
<text x="999.3" y="2280.3" font-size="25.63" textLength="158.61" lengthAdjust="spacingAndGlyphs">Corallochytrea</text>
<text x="999.3" y="2312.57" font-size="25.63" textLength="151.75" lengthAdjust="spacingAndGlyphs">Cryptomycota</text>
<text x="999.3" y="2344.84" font-size="25.63" textLength="247.51" lengthAdjust="spacingAndGlyphs">Entomophthoromycota</text>
<circle cx="982.2" cy="2370.11" r="8.7" fill="#f9be84" stroke="#8e8e8e" stroke-width="2.6"/>
<text x="999.3" y="2377.11" font-size="25.63" textLength="91.63" lengthAdjust="spacingAndGlyphs">Fungi_X</text>
<text x="999.3" y="2409.38" font-size="25.63" textLength="173.62" lengthAdjust="spacingAndGlyphs">Glomeromycota</text>
<circle cx="982.2" cy="2434.65" r="8.7" fill="#2fae49" stroke="#8e8e8e" stroke-width="2.6"/>
<text x="999.3" y="2441.65" font-size="25.63" textLength="154.53" lengthAdjust="spacingAndGlyphs">Ichthyosporea</text>
<text x="999.3" y="2473.92" font-size="25.63" textLength="176.36" lengthAdjust="spacingAndGlyphs">Kickxellomycota</text>
<text x="1311" y="2280.3" font-size="25.63" textLength="225.58" lengthAdjust="spacingAndGlyphs">Microsporidiomycota</text>
<circle cx="1292.7" cy="2305.57" r="8.7" fill="#d33428" stroke="#8e8e8e" stroke-width="2.6"/>
<text x="1311" y="2312.57" font-size="25.63" textLength="161.32" lengthAdjust="spacingAndGlyphs">Mucoromycota</text>
<circle cx="1292.7" cy="2337.84" r="8.7" fill="#9366ac" stroke="#8e8e8e" stroke-width="2.6"/>
<text x="1311" y="2344.84" font-size="25.63" textLength="136.75" lengthAdjust="spacingAndGlyphs">Nucleariidea</text>
<circle cx="1292.7" cy="2370.11" r="8.7" fill="#c2bf33" stroke="#8e8e8e" stroke-width="2.6"/>
<text x="1311" y="2377.11" font-size="25.63" textLength="191.46" lengthAdjust="spacingAndGlyphs">Opisthokonta_XX</text>
<text x="1311" y="2409.38" font-size="25.63" textLength="176.41" lengthAdjust="spacingAndGlyphs">Zoopagomycota</text>
<text x="704.63" y="2540.1" font-size="40.33" font-weight="bold" textLength="218.76" lengthAdjust="spacingAndGlyphs">Amoebozoa</text>
<text x="724.9" y="2582.5" font-size="30.22" font-weight="bold" textLength="11.29" lengthAdjust="spacingAndGlyphs">*</text>
<circle cx="705.6" cy="2597.7" r="8.7" fill="#d33428" stroke="#8e8e8e" stroke-width="2.6"/>
<text x="722.7" y="2604.7" font-size="25.63" textLength="177.79" lengthAdjust="spacingAndGlyphs">Amoebozoa_XX</text>
<text x="722.7" y="2637" font-size="25.63" textLength="153.17" lengthAdjust="spacingAndGlyphs">Archamoebea</text>
<text x="722.7" y="2669.2" font-size="25.63" textLength="103.93" lengthAdjust="spacingAndGlyphs">Breviatea</text>
<circle cx="960.6" cy="2561.3" r="8.7" fill="#9366ac" stroke="#8e8e8e" stroke-width="2.6"/>
<text x="978.2" y="2568.3" font-size="25.63" textLength="220.14" lengthAdjust="spacingAndGlyphs">Discosea-Flabellinia</text>
<circle cx="960.6" cy="2593.3" r="8.7" fill="#88564b" stroke="#8e8e8e" stroke-width="2.6"/>
<text x="978.2" y="2600.3" font-size="25.63" textLength="258.47" lengthAdjust="spacingAndGlyphs">Discosea-Longamoebia</text>
<circle cx="960.6" cy="2625.3" r="8.7" fill="#e0de93" stroke="#8e8e8e" stroke-width="2.6"/>
<text x="978.2" y="2632.3" font-size="25.63" textLength="110.8" lengthAdjust="spacingAndGlyphs">Lobosa_X</text>
<text x="978.2" y="2665.2" font-size="25.63" textLength="261.14" lengthAdjust="spacingAndGlyphs">Mycetozoa-Dictyostelea</text>
<text x="1311.4" y="2567.9" font-size="25.63" textLength="267.98" lengthAdjust="spacingAndGlyphs">Mycetozoa-Myxogastrea</text>
<text x="1311.4" y="2599.8" font-size="25.63" textLength="216.03" lengthAdjust="spacingAndGlyphs">NAMAKO-1-lineage</text>
<circle cx="1297.5" cy="2624.9" r="8.7" fill="#2f7bbb" stroke="#8e8e8e" stroke-width="2.6"/>
<text x="1311.4" y="2631.9" font-size="25.63" textLength="107.14" lengthAdjust="spacingAndGlyphs">Tubulinea</text>
<circle cx="1297.5" cy="2657.4" r="8.7" fill="#c6c6c6" stroke="#8e8e8e" stroke-width="2.6"/>
<text x="1311.4" y="2664.4" font-size="25.63" textLength="95.27" lengthAdjust="spacingAndGlyphs">Variosea</text>
<defs><linearGradient id="sky" x1="0" y1="0" x2="0" y2="1"><stop offset="0" stop-color="#c4d7e6"/><stop offset="0.45" stop-color="#b4d4e8"/><stop offset="1" stop-color="#a7cfe6"/></linearGradient><linearGradient id="sea" x1="0" y1="0" x2="0" y2="1"><stop offset="0" stop-color="#8e9cc0"/><stop offset="0.25" stop-color="#8189b0"/><stop offset="0.55" stop-color="#8690b6"/><stop offset="0.8" stop-color="#8793ba"/><stop offset="1" stop-color="#8c9cc0"/></linearGradient><linearGradient id="gmaskg" gradientUnits="userSpaceOnUse" x1="1178" y1="0" x2="1330" y2="0"><stop offset="0" stop-color="#fff" stop-opacity="0.45"/><stop offset="1" stop-color="#fff" stop-opacity="1"/></linearGradient><linearGradient id="grn" x1="0" y1="0" x2="0" y2="1"><stop offset="0" stop-color="#7cc58e" stop-opacity="0.95"/><stop offset="0.5" stop-color="#80c58a" stop-opacity="0.8"/><stop offset="1" stop-color="#8ec47e" stop-opacity="0"/></linearGradient><linearGradient id="uw" x1="0" y1="0" x2="0" y2="1"><stop offset="0" stop-color="#8db0dc"/><stop offset="0.18" stop-color="#89a9d3"/><stop offset="0.38" stop-color="#8299b7"/><stop offset="0.448" stop-color="#7e91a6"/><stop offset="0.452" stop-color="#8a97a0"/><stop offset="0.58" stop-color="#7f888b"/><stop offset="0.75" stop-color="#898a82"/><stop offset="0.88" stop-color="#a19885"/><stop offset="1" stop-color="#b5a791"/></linearGradient><filter id="blur6" x="-20%" y="-50%" width="140%" height="200%"><feGaussianBlur stdDeviation="6"/></filter><filter id="blur2" x="-10%" y="-100%" width="120%" height="300%"><feGaussianBlur stdDeviation="1.6"/></filter><filter id="blur10" x="-20%" y="-60%" width="140%" height="220%"><feGaussianBlur stdDeviation="10"/></filter><clipPath id="imgclip"><rect x="1126.8" y="57.1" width="433.9" height="794.3"/></clipPath><linearGradient id="arr" x1="0" y1="0" x2="1" y2="0"><stop offset="0" stop-color="#1e1e1e"/><stop offset="0.5" stop-color="#7a7a7a"/><stop offset="0.8" stop-color="#bdbdbd"/><stop offset="1" stop-color="#f4f4f4"/></linearGradient></defs>
<rect x="1117.4" y="1.75" width="747.8" height="904.05" fill="none" stroke="#111" stroke-width="3.5"/>
<text x="1132.98" y="50.6" font-size="54" font-weight="bold" textLength="50.45" lengthAdjust="spacingAndGlyphs">C.</text>
<g clip-path="url(#imgclip)">
<rect x="1126.8" y="57.1" width="433.9" height="103.3" fill="url(#sky)"/>
<g filter="url(#blur6)" opacity="0.9"><ellipse cx="1255" cy="80" rx="150" ry="30" fill="#e1e7ec"/><ellipse cx="1200" cy="95" rx="70" ry="16" fill="#e7ecf0"/><ellipse cx="1460" cy="66" rx="120" ry="15" fill="#dae3ea"/><ellipse cx="1535" cy="120" rx="38" ry="9" fill="#e4eaef"/></g>
<rect x="1126.8" y="160.3" width="433.9" height="92.1" fill="url(#sea)"/>
<g filter="url(#blur2)"><rect x="1127" y="161" width="434" height="4" fill="#a9b8d6" opacity="0.7"/><rect x="1127" y="171" width="434" height="2" fill="#7a7399" opacity="0.5"/><rect x="1127" y="178" width="434" height="3" fill="#77749c" opacity="0.55"/><rect x="1127" y="183" width="434" height="2" fill="#a3b6d8" opacity="0.5"/><rect x="1127" y="193" width="434" height="3" fill="#78749b" opacity="0.5"/><rect x="1127" y="199" width="434" height="2" fill="#a0b4d6" opacity="0.45"/><rect x="1127" y="213" width="434" height="4" fill="#7d779f" opacity="0.45"/><rect x="1127" y="221" width="434" height="2" fill="#a6bad9" opacity="0.5"/><rect x="1127" y="228" width="434" height="4" fill="#7c76a0" opacity="0.45"/><rect x="1127" y="236" width="434" height="3" fill="#9fb6d6" opacity="0.55"/><rect x="1127" y="245" width="434" height="5" fill="#7f7ca3" opacity="0.4"/><ellipse cx="1215" cy="171" rx="25" ry="1.5" fill="#eef2f8" opacity="0.85"/><ellipse cx="1292" cy="187.5" rx="65" ry="2.6" fill="#ffffff" opacity="0.95"/><ellipse cx="1430" cy="206.5" rx="125" ry="2.3" fill="#ffffff" opacity="0.9"/><ellipse cx="1447" cy="200" rx="13" ry="1.3" fill="#ffffff" opacity="0.8"/><ellipse cx="1533" cy="187" rx="28" ry="1.3" fill="#e6ecf5" opacity="0.7"/><ellipse cx="1190" cy="208" rx="35" ry="1.3" fill="#c8d6ec" opacity="0.6"/></g>
<rect x="1126.8" y="252.4" width="433.9" height="599" fill="url(#uw)"/>
<line x1="1126.8" y1="252.6" x2="1560.7" y2="252.6" stroke="#e6eef4" stroke-width="1.2"/>
<mask id="gmask" maskUnits="userSpaceOnUse" x="1126" y="250" width="436" height="90"><rect x="1126" y="250" width="436" height="90" fill="url(#gmaskg)"/></mask>
<g filter="url(#blur2)" mask="url(#gmask)"><rect x="1180" y="253" width="382" height="55" fill="url(#grn)"/></g>
<g filter="url(#blur10)" opacity="0.7"><ellipse cx="1480" cy="300" rx="95" ry="26" fill="#9acb6c"/><ellipse cx="1380" cy="275" rx="120" ry="16" fill="#86c77e"/></g>
</g>
<text x="1211.09" y="307.5" font-size="35.5" font-weight="bold" textLength="264.27" lengthAdjust="spacingAndGlyphs">Photosynthesis</text>
<polygon points="1156.6,341 1434.7,341 1434.7,487.5 1296.6,514.8 1156.6,487.5" fill="#26b2a8"/>
<polygon points="1451,341 1456.4,341 1456.4,487.5 1453.7,514.8 1451,487.5" fill="#17a047"/>
<polygon points="1471.3,341 1481.1,341 1481.1,487.5 1476.2,514.8 1471.3,487.5" fill="#3bb54a"/>
<polygon points="1496.2,341 1531.3,341 1531.3,487.5 1513.7,514.8 1496.2,487.5" fill="#a3c93a"/>
<text x="1285.98" y="424.5" font-size="35.5" font-weight="bold" textLength="113.26" lengthAdjust="spacingAndGlyphs">Export</text>
<polygon points="1231.2,811.3 1231.2,664.2 1243.4,637.5 1255.6,664.2 1255.6,811.3" fill="#c4965f"/>
<polygon points="1269.8,811.3 1269.8,665.1 1320.9,637.5 1372,665.1 1372,811.3" fill="#ab7c4a"/>
<polygon points="1387.8,811.3 1387.8,665.1 1429.4,637.5 1471,665.1 1471,811.3" fill="#8b5a35"/>
<text x="1290.4" y="733.5" font-size="35.5" font-weight="bold" textLength="104.45" lengthAdjust="spacingAndGlyphs">Decay</text>
<text x="1567.88" y="82.6" font-size="24.5" font-weight="bold" textLength="251.45" lengthAdjust="spacingAndGlyphs">Putative Phototrophs</text>
<text x="1567.88" y="540.3" font-size="24.5" font-weight="bold" textLength="251.49" lengthAdjust="spacingAndGlyphs">Putative Saprotrophs</text>
<rect x="1574.7" y="97.9" width="26.6" height="28.8" fill="#26b2a8" stroke="#161616" stroke-width="2.8"/>
<rect x="1574.7" y="192.1" width="26.6" height="28.8" fill="#14994a" stroke="#161616" stroke-width="2.8"/>
<rect x="1574.7" y="286.6" width="26.6" height="28.8" fill="#3db449" stroke="#161616" stroke-width="2.8"/>
<rect x="1574.7" y="381" width="26.6" height="28.8" fill="#a6cb3a" stroke="#161616" stroke-width="2.8"/>
<rect x="1574.7" y="559.8" width="26.6" height="28.8" fill="#c69c6d" stroke="#161616" stroke-width="2.8"/>
<rect x="1574.7" y="654" width="26.6" height="28.8" fill="#a97a4a" stroke="#161616" stroke-width="2.8"/>
<rect x="1574.7" y="748.1" width="26.6" height="28.8" fill="#8b5a35" stroke="#161616" stroke-width="2.8"/>
<text x="1609.6" y="124" font-size="21.2" fill="#111" xml:space="preserve">Bacillariophyta</text>
<text x="1573.9" y="149" font-size="21.2" fill="#111" xml:space="preserve">(Diatoms) x = 21.52%</text>
<line x1="1671.96" y1="134" x2="1681.96" y2="134" stroke="#111" stroke-width="1.6"/>
<text x="1573.9" y="174.2" font-size="21.2" fill="#111" xml:space="preserve">(S.E.M.  ± 3.36)</text>
<text x="1613.3" y="217.3" font-size="21.2" fill="#111" xml:space="preserve">Bolidophyceae-</text>
<text x="1577.1" y="241.9" font-size="21.2" fill="#111" xml:space="preserve">and-relatives x = 0.16%</text>
<line x1="1704.67" y1="226.9" x2="1714.67" y2="226.9" stroke="#111" stroke-width="1.6"/>
<text x="1577.1" y="266.2" font-size="21.2" fill="#111" xml:space="preserve">(S.E.M. ± 0.01)</text>
<text x="1609" y="315.1" font-size="21.2" fill="#111" xml:space="preserve">Chrysophyceae &amp;</text>
<text x="1573.9" y="340.2" font-size="21.2" fill="#111" xml:space="preserve">Synurophyceae x = 0.47%</text>
<line x1="1727.42" y1="325.2" x2="1737.42" y2="325.2" stroke="#111" stroke-width="1.6"/>
<text x="1573.9" y="364.8" font-size="21.2" fill="#111" xml:space="preserve">(S.E.M. ± 0.05)</text>
<text x="1612" y="405.6" font-size="21.2" fill="#111" xml:space="preserve">Dinophyceae</text>
<text x="1576.5" y="431.2" font-size="21.2" fill="#111" xml:space="preserve">(Dinoflagellates)x = 2.44%</text>
<line x1="1729.99" y1="416.2" x2="1739.99" y2="416.2" stroke="#111" stroke-width="1.6"/>
<text x="1576.5" y="455.9" font-size="21.2" fill="#111" xml:space="preserve">(S.E.M. ± 0.24)</text>
<text x="1608.6" y="586.8" font-size="21.2" fill="#111" xml:space="preserve">Pseudofungi</text>
<text x="1572.6" y="612.4" font-size="21.2" fill="#111" xml:space="preserve">x = 1.62% (S.E.M. ± 0.34)</text>
<line x1="1572.9" y1="597.4" x2="1582.9" y2="597.4" stroke="#111" stroke-width="1.6"/>
<text x="1608.6" y="681.6" font-size="21.2" fill="#111" xml:space="preserve">Labyrinthulomycetes</text>
<text x="1572.6" y="707.2" font-size="21.2" fill="#111" xml:space="preserve">x = 7.76% (S.E.M. ± 0.84)</text>
<line x1="1572.9" y1="692.2" x2="1582.9" y2="692.2" stroke="#111" stroke-width="1.6"/>
<text x="1608.6" y="777.8" font-size="21.2" fill="#111" xml:space="preserve">Holomycota</text>
<text x="1572.6" y="803" font-size="21.2" fill="#111" xml:space="preserve">x = 6.24% (S.E.M. ± 0.64)</text>
<line x1="1572.9" y1="788" x2="1582.9" y2="788" stroke="#111" stroke-width="1.6"/>
<rect x="1117.4" y="920" width="747.8" height="1018.2" fill="none" stroke="#111" stroke-width="3.4"/>
<text x="1133.79" y="969.6" font-size="51" font-weight="bold" textLength="50.87" lengthAdjust="spacingAndGlyphs">B.</text>
<text x="1278.53" y="970.5" font-size="28" textLength="224.32" lengthAdjust="spacingAndGlyphs">Bottom Depth (m)</text>
<text x="1217.53" y="1003.4" font-size="27.5" textLength="49.21" lengthAdjust="spacingAndGlyphs">200</text>
<text x="1296.43" y="1003.4" font-size="27.5" textLength="48.89" lengthAdjust="spacingAndGlyphs">650</text>
<text x="1394.39" y="1003.4" font-size="27.5" textLength="45.02" lengthAdjust="spacingAndGlyphs">881</text>
<text x="1493.7" y="1003.4" font-size="27.5" textLength="48.36" lengthAdjust="spacingAndGlyphs">957</text>
<line x1="1222" y1="1012.1" x2="1260.7" y2="1012.1" stroke="#111" stroke-width="3.2"/>
<line x1="1275.1" y1="1012.1" x2="1360.8" y2="1012.1" stroke="#111" stroke-width="3.2"/>
<line x1="1371.4" y1="1012.1" x2="1457.1" y2="1012.1" stroke="#111" stroke-width="3.2"/>
<line x1="1469.2" y1="1012.1" x2="1554.9" y2="1012.1" stroke="#111" stroke-width="3.2"/>
<text x="1223.83" y="1030.3" font-size="18.5" textLength="34.82" lengthAdjust="spacingAndGlyphs">L.G.</text>
<text x="1274.04" y="1030.3" font-size="18.5" textLength="34.49" lengthAdjust="spacingAndGlyphs">L.G.</text>
<text x="1322.02" y="1030.3" font-size="18.5" textLength="34.93" lengthAdjust="spacingAndGlyphs">L.G.</text>
<text x="1371.44" y="1030.3" font-size="18.5" textLength="34.6" lengthAdjust="spacingAndGlyphs">L.G.</text>
<text x="1420.72" y="1030.3" font-size="18.5" textLength="35.04" lengthAdjust="spacingAndGlyphs">L.G.</text>
<text x="1470.54" y="1030.3" font-size="18.5" textLength="34.6" lengthAdjust="spacingAndGlyphs">L.G.</text>
<text x="1517.01" y="1030.3" font-size="18.5" textLength="35.15" lengthAdjust="spacingAndGlyphs">L.G.</text>
<text x="1226.11" y="1047.9" font-size="18.5" font-style="italic" textLength="32.82" lengthAdjust="spacingAndGlyphs">ship</text>
<text x="1269.54" y="1047.9" font-size="18.5" font-style="italic" textLength="45.25" lengthAdjust="spacingAndGlyphs">in situ</text>
<text x="1324.31" y="1047.9" font-size="18.5" font-style="italic" textLength="32.31" lengthAdjust="spacingAndGlyphs">ship</text>
<text x="1366.53" y="1047.9" font-size="18.5" font-style="italic" textLength="46.16" lengthAdjust="spacingAndGlyphs">in situ</text>
<text x="1422.91" y="1047.9" font-size="18.5" font-style="italic" textLength="32.92" lengthAdjust="spacingAndGlyphs">ship</text>
<text x="1465.93" y="1047.9" font-size="18.5" font-style="italic" textLength="46.16" lengthAdjust="spacingAndGlyphs">in situ</text>
<text x="1519.21" y="1047.9" font-size="18.5" font-style="italic" textLength="33.23" lengthAdjust="spacingAndGlyphs">ship</text>
<line x1="1242.4" y1="1049.2" x2="1242.4" y2="1449.8" stroke="#ebebeb" stroke-width="1"/>
<line x1="1290.33" y1="1049.2" x2="1290.33" y2="1449.8" stroke="#ebebeb" stroke-width="1"/>
<line x1="1338.26" y1="1049.2" x2="1338.26" y2="1449.8" stroke="#ebebeb" stroke-width="1"/>
<line x1="1386.19" y1="1049.2" x2="1386.19" y2="1449.8" stroke="#ebebeb" stroke-width="1"/>
<line x1="1434.12" y1="1049.2" x2="1434.12" y2="1449.8" stroke="#ebebeb" stroke-width="1"/>
<line x1="1482.05" y1="1049.2" x2="1482.05" y2="1449.8" stroke="#ebebeb" stroke-width="1"/>
<line x1="1529.98" y1="1049.2" x2="1529.98" y2="1449.8" stroke="#ebebeb" stroke-width="1"/>
<g>
<rect x="1220.6" y="1068.8" width="43.6" height="22.1" fill="#d33428"/>
<rect x="1220.6" y="1090.9" width="43.6" height="16.38" fill="#2fae49"/>
<rect x="1220.6" y="1107.28" width="43.6" height="342.52" fill="#f9be84"/>
<line x1="1220.6" y1="1090.9" x2="1264.2" y2="1090.9" stroke="#242424" stroke-width="0.9"/>
<line x1="1220.6" y1="1107.28" x2="1264.2" y2="1107.28" stroke="#242424" stroke-width="0.9"/>
<rect x="1220.6" y="1068.8" width="43.6" height="381" fill="none" stroke="#242424" stroke-width="0.9"/>
</g>
<g>
<rect x="1268.53" y="1068.8" width="43.6" height="20.95" fill="#d33428"/>
<rect x="1268.53" y="1089.75" width="43.6" height="10.67" fill="#2fae49"/>
<rect x="1268.53" y="1100.42" width="43.6" height="349.38" fill="#f9be84"/>
<line x1="1268.53" y1="1089.75" x2="1312.13" y2="1089.75" stroke="#242424" stroke-width="0.9"/>
<line x1="1268.53" y1="1100.42" x2="1312.13" y2="1100.42" stroke="#242424" stroke-width="0.9"/>
<rect x="1268.53" y="1068.8" width="43.6" height="381" fill="none" stroke="#242424" stroke-width="0.9"/>
</g>
<g>
<rect x="1316.46" y="1068.8" width="43.6" height="28.58" fill="#d33428"/>
<rect x="1316.46" y="1097.38" width="43.6" height="6.86" fill="#2fae49"/>
<rect x="1316.46" y="1104.23" width="43.6" height="345.57" fill="#f9be84"/>
<line x1="1316.46" y1="1097.38" x2="1360.06" y2="1097.38" stroke="#242424" stroke-width="0.9"/>
<line x1="1316.46" y1="1104.23" x2="1360.06" y2="1104.23" stroke="#242424" stroke-width="0.9"/>
<rect x="1316.46" y="1068.8" width="43.6" height="381" fill="none" stroke="#242424" stroke-width="0.9"/>
</g>
<g>
<rect x="1364.39" y="1068.8" width="43.6" height="12.57" fill="#d33428"/>
<rect x="1364.39" y="1081.37" width="43.6" height="6.1" fill="#2fae49"/>
<rect x="1364.39" y="1087.47" width="43.6" height="362.33" fill="#f9be84"/>
<line x1="1364.39" y1="1081.37" x2="1407.99" y2="1081.37" stroke="#242424" stroke-width="0.9"/>
<line x1="1364.39" y1="1087.47" x2="1407.99" y2="1087.47" stroke="#242424" stroke-width="0.9"/>
<rect x="1364.39" y="1068.8" width="43.6" height="381" fill="none" stroke="#242424" stroke-width="0.9"/>
</g>
<g>
<rect x="1412.32" y="1068.8" width="43.6" height="11.43" fill="#d33428"/>
<rect x="1412.32" y="1080.23" width="43.6" height="7.24" fill="#2fae49"/>
<rect x="1412.32" y="1087.47" width="43.6" height="362.33" fill="#f9be84"/>
<line x1="1412.32" y1="1080.23" x2="1455.92" y2="1080.23" stroke="#242424" stroke-width="0.9"/>
<line x1="1412.32" y1="1087.47" x2="1455.92" y2="1087.47" stroke="#242424" stroke-width="0.9"/>
<rect x="1412.32" y="1068.8" width="43.6" height="381" fill="none" stroke="#242424" stroke-width="0.9"/>
</g>
<g>
<rect x="1460.25" y="1068.8" width="43.6" height="17.14" fill="#d33428"/>
<rect x="1460.25" y="1085.94" width="43.6" height="9.53" fill="#2fae49"/>
<rect x="1460.25" y="1095.47" width="43.6" height="354.33" fill="#f9be84"/>
<line x1="1460.25" y1="1085.94" x2="1503.85" y2="1085.94" stroke="#242424" stroke-width="0.9"/>
<line x1="1460.25" y1="1095.47" x2="1503.85" y2="1095.47" stroke="#242424" stroke-width="0.9"/>
<rect x="1460.25" y="1068.8" width="43.6" height="381" fill="none" stroke="#242424" stroke-width="0.9"/>
</g>
<g>
<rect x="1508.18" y="1068.8" width="43.6" height="12.95" fill="#d33428"/>
<rect x="1508.18" y="1081.75" width="43.6" height="5.72" fill="#2fae49"/>
<rect x="1508.18" y="1087.47" width="43.6" height="362.33" fill="#f9be84"/>
<line x1="1508.18" y1="1081.75" x2="1551.78" y2="1081.75" stroke="#242424" stroke-width="0.9"/>
<line x1="1508.18" y1="1087.47" x2="1551.78" y2="1087.47" stroke="#242424" stroke-width="0.9"/>
<rect x="1508.18" y="1068.8" width="43.6" height="381" fill="none" stroke="#242424" stroke-width="0.9"/>
</g>
<line x1="1220.5" y1="1049.2" x2="1220.5" y2="1452.8" stroke="#222" stroke-width="1.5"/>
<line x1="1216.5" y1="1049.6" x2="1220.5" y2="1049.6" stroke="#222" stroke-width="1.3"/>
<line x1="1216" y1="1449.8" x2="1553" y2="1449.8" stroke="#222" stroke-width="1.5"/>
<line x1="1553" y1="1449.8" x2="1553" y2="1453.3" stroke="#222" stroke-width="1.3"/>
<line x1="1242.4" y1="1449.8" x2="1242.4" y2="1453.3" stroke="#555" stroke-width="1.2"/>
<line x1="1290.33" y1="1449.8" x2="1290.33" y2="1453.3" stroke="#555" stroke-width="1.2"/>
<line x1="1338.26" y1="1449.8" x2="1338.26" y2="1453.3" stroke="#555" stroke-width="1.2"/>
<line x1="1386.19" y1="1449.8" x2="1386.19" y2="1453.3" stroke="#555" stroke-width="1.2"/>
<line x1="1434.12" y1="1449.8" x2="1434.12" y2="1453.3" stroke="#555" stroke-width="1.2"/>
<line x1="1482.05" y1="1449.8" x2="1482.05" y2="1453.3" stroke="#555" stroke-width="1.2"/>
<line x1="1529.98" y1="1449.8" x2="1529.98" y2="1453.3" stroke="#555" stroke-width="1.2"/>
<line x1="1216" y1="1449.8" x2="1220.5" y2="1449.8" stroke="#222" stroke-width="1.3"/>
<text x="1209.3" y="1455.3" font-size="22" text-anchor="end">0</text>
<line x1="1216" y1="1411.7" x2="1220.5" y2="1411.7" stroke="#222" stroke-width="1.3"/>
<text x="1209.3" y="1417.2" font-size="22" text-anchor="end">10</text>
<line x1="1216" y1="1373.6" x2="1220.5" y2="1373.6" stroke="#222" stroke-width="1.3"/>
<text x="1209.3" y="1379.1" font-size="22" text-anchor="end">20</text>
<line x1="1216" y1="1335.5" x2="1220.5" y2="1335.5" stroke="#222" stroke-width="1.3"/>
<text x="1209.3" y="1341" font-size="22" text-anchor="end">30</text>
<line x1="1216" y1="1297.4" x2="1220.5" y2="1297.4" stroke="#222" stroke-width="1.3"/>
<text x="1209.3" y="1302.9" font-size="22" text-anchor="end">40</text>
<line x1="1216" y1="1259.3" x2="1220.5" y2="1259.3" stroke="#222" stroke-width="1.3"/>
<text x="1209.3" y="1264.8" font-size="22" text-anchor="end">50</text>
<line x1="1216" y1="1221.2" x2="1220.5" y2="1221.2" stroke="#222" stroke-width="1.3"/>
<text x="1209.3" y="1226.7" font-size="22" text-anchor="end">60</text>
<line x1="1216" y1="1183.1" x2="1220.5" y2="1183.1" stroke="#222" stroke-width="1.3"/>
<text x="1209.3" y="1188.6" font-size="22" text-anchor="end">70</text>
<line x1="1216" y1="1145" x2="1220.5" y2="1145" stroke="#222" stroke-width="1.3"/>
<text x="1209.3" y="1150.5" font-size="22" text-anchor="end">80</text>
<line x1="1216" y1="1106.9" x2="1220.5" y2="1106.9" stroke="#222" stroke-width="1.3"/>
<text x="1209.3" y="1112.4" font-size="22" text-anchor="end">90</text>
<line x1="1216" y1="1068.8" x2="1220.5" y2="1068.8" stroke="#222" stroke-width="1.3"/>
<text x="1209.3" y="1074.3" font-size="22" text-anchor="end">100</text>
<line x1="1241.45" y1="1457.4" x2="1241.45" y2="1857.6" stroke="#ebebeb" stroke-width="1"/>
<line x1="1289.32" y1="1457.4" x2="1289.32" y2="1857.6" stroke="#ebebeb" stroke-width="1"/>
<line x1="1337.19" y1="1457.4" x2="1337.19" y2="1857.6" stroke="#ebebeb" stroke-width="1"/>
<line x1="1385.06" y1="1457.4" x2="1385.06" y2="1857.6" stroke="#ebebeb" stroke-width="1"/>
<line x1="1432.93" y1="1457.4" x2="1432.93" y2="1857.6" stroke="#ebebeb" stroke-width="1"/>
<line x1="1480.8" y1="1457.4" x2="1480.8" y2="1857.6" stroke="#ebebeb" stroke-width="1"/>
<line x1="1528.67" y1="1457.4" x2="1528.67" y2="1857.6" stroke="#ebebeb" stroke-width="1"/>
<g>
<rect x="1219.9" y="1476.6" width="43.1" height="13.72" fill="#c2bf33"/>
<rect x="1219.9" y="1490.32" width="43.1" height="1.52" fill="#1a1a1a"/>
<rect x="1219.9" y="1491.84" width="43.1" height="1.52" fill="#ccb2d7"/>
<rect x="1219.9" y="1493.36" width="43.1" height="12.95" fill="#9366ac"/>
<rect x="1219.9" y="1506.32" width="43.1" height="94.11" fill="#c6c6c6"/>
<rect x="1219.9" y="1600.42" width="43.1" height="1.9" fill="#d33428"/>
<rect x="1219.9" y="1602.33" width="43.1" height="6.48" fill="#b4d98e"/>
<rect x="1219.9" y="1608.81" width="43.1" height="3.81" fill="#f9be84"/>
<rect x="1219.9" y="1612.62" width="43.1" height="110.87" fill="#b3c8e8"/>
<rect x="1219.9" y="1723.49" width="43.1" height="3.81" fill="#2f7bbb"/>
<rect x="1219.9" y="1727.3" width="43.1" height="49.15" fill="#88564b"/>
<rect x="1219.9" y="1776.45" width="43.1" height="81.15" fill="#d277b2"/>
<line x1="1219.9" y1="1490.32" x2="1263" y2="1490.32" stroke="#242424" stroke-width="0.9"/>
<line x1="1219.9" y1="1491.84" x2="1263" y2="1491.84" stroke="#242424" stroke-width="0.9"/>
<line x1="1219.9" y1="1493.36" x2="1263" y2="1493.36" stroke="#242424" stroke-width="0.9"/>
<line x1="1219.9" y1="1506.32" x2="1263" y2="1506.32" stroke="#242424" stroke-width="0.9"/>
<line x1="1219.9" y1="1600.42" x2="1263" y2="1600.42" stroke="#242424" stroke-width="0.9"/>
<line x1="1219.9" y1="1602.33" x2="1263" y2="1602.33" stroke="#242424" stroke-width="0.9"/>
<line x1="1219.9" y1="1608.81" x2="1263" y2="1608.81" stroke="#242424" stroke-width="0.9"/>
<line x1="1219.9" y1="1612.62" x2="1263" y2="1612.62" stroke="#242424" stroke-width="0.9"/>
<line x1="1219.9" y1="1723.49" x2="1263" y2="1723.49" stroke="#242424" stroke-width="0.9"/>
<line x1="1219.9" y1="1727.3" x2="1263" y2="1727.3" stroke="#242424" stroke-width="0.9"/>
<line x1="1219.9" y1="1776.45" x2="1263" y2="1776.45" stroke="#242424" stroke-width="0.9"/>
<rect x="1219.9" y="1476.6" width="43.1" height="381" fill="none" stroke="#242424" stroke-width="0.9"/>
</g>
<g>
<rect x="1267.77" y="1476.6" width="43.1" height="1.9" fill="#c2bf33"/>
<rect x="1267.77" y="1478.5" width="43.1" height="10.29" fill="#ccb2d7"/>
<rect x="1267.77" y="1488.79" width="43.1" height="17.14" fill="#9366ac"/>
<rect x="1267.77" y="1505.94" width="43.1" height="115.06" fill="#c6c6c6"/>
<rect x="1267.77" y="1621" width="43.1" height="3.05" fill="#d33428"/>
<rect x="1267.77" y="1624.05" width="43.1" height="2.67" fill="#b4d98e"/>
<rect x="1267.77" y="1626.71" width="43.1" height="1.52" fill="#3a3a3a"/>
<rect x="1267.77" y="1628.24" width="43.1" height="35.81" fill="#b3c8e8"/>
<rect x="1267.77" y="1664.05" width="43.1" height="81.15" fill="#88564b"/>
<rect x="1267.77" y="1745.2" width="43.1" height="112.39" fill="#d277b2"/>
<line x1="1267.77" y1="1478.5" x2="1310.87" y2="1478.5" stroke="#242424" stroke-width="0.9"/>
<line x1="1267.77" y1="1488.79" x2="1310.87" y2="1488.79" stroke="#242424" stroke-width="0.9"/>
<line x1="1267.77" y1="1505.94" x2="1310.87" y2="1505.94" stroke="#242424" stroke-width="0.9"/>
<line x1="1267.77" y1="1621" x2="1310.87" y2="1621" stroke="#242424" stroke-width="0.9"/>
<line x1="1267.77" y1="1624.05" x2="1310.87" y2="1624.05" stroke="#242424" stroke-width="0.9"/>
<line x1="1267.77" y1="1626.71" x2="1310.87" y2="1626.71" stroke="#242424" stroke-width="0.9"/>
<line x1="1267.77" y1="1628.24" x2="1310.87" y2="1628.24" stroke="#242424" stroke-width="0.9"/>
<line x1="1267.77" y1="1664.05" x2="1310.87" y2="1664.05" stroke="#242424" stroke-width="0.9"/>
<line x1="1267.77" y1="1745.2" x2="1310.87" y2="1745.2" stroke="#242424" stroke-width="0.9"/>
<rect x="1267.77" y="1476.6" width="43.1" height="381" fill="none" stroke="#242424" stroke-width="0.9"/>
</g>
<g>
<rect x="1315.64" y="1476.6" width="43.1" height="1.9" fill="#c2bf33"/>
<rect x="1315.64" y="1478.5" width="43.1" height="3.81" fill="#ccb2d7"/>
<rect x="1315.64" y="1482.31" width="43.1" height="32" fill="#9366ac"/>
<rect x="1315.64" y="1514.32" width="43.1" height="132.59" fill="#c6c6c6"/>
<rect x="1315.64" y="1646.91" width="43.1" height="4.95" fill="#d33428"/>
<rect x="1315.64" y="1651.86" width="43.1" height="3.81" fill="#b4d98e"/>
<rect x="1315.64" y="1655.67" width="43.1" height="2.29" fill="#2fae49"/>
<rect x="1315.64" y="1657.96" width="43.1" height="51.43" fill="#b3c8e8"/>
<rect x="1315.64" y="1709.39" width="43.1" height="67.44" fill="#88564b"/>
<rect x="1315.64" y="1776.83" width="43.1" height="80.77" fill="#d277b2"/>
<line x1="1315.64" y1="1478.5" x2="1358.74" y2="1478.5" stroke="#242424" stroke-width="0.9"/>
<line x1="1315.64" y1="1482.31" x2="1358.74" y2="1482.31" stroke="#242424" stroke-width="0.9"/>
<line x1="1315.64" y1="1514.32" x2="1358.74" y2="1514.32" stroke="#242424" stroke-width="0.9"/>
<line x1="1315.64" y1="1646.91" x2="1358.74" y2="1646.91" stroke="#242424" stroke-width="0.9"/>
<line x1="1315.64" y1="1651.86" x2="1358.74" y2="1651.86" stroke="#242424" stroke-width="0.9"/>
<line x1="1315.64" y1="1655.67" x2="1358.74" y2="1655.67" stroke="#242424" stroke-width="0.9"/>
<line x1="1315.64" y1="1657.96" x2="1358.74" y2="1657.96" stroke="#242424" stroke-width="0.9"/>
<line x1="1315.64" y1="1709.39" x2="1358.74" y2="1709.39" stroke="#242424" stroke-width="0.9"/>
<line x1="1315.64" y1="1776.83" x2="1358.74" y2="1776.83" stroke="#242424" stroke-width="0.9"/>
<rect x="1315.64" y="1476.6" width="43.1" height="381" fill="none" stroke="#242424" stroke-width="0.9"/>
</g>
<g>
<rect x="1363.51" y="1476.6" width="43.1" height="1.52" fill="#3a3a3a"/>
<rect x="1363.51" y="1478.12" width="43.1" height="12.19" fill="#9366ac"/>
<rect x="1363.51" y="1490.32" width="43.1" height="56.01" fill="#c6c6c6"/>
<rect x="1363.51" y="1546.32" width="43.1" height="3.05" fill="#88564b"/>
<rect x="1363.51" y="1549.37" width="43.1" height="220.22" fill="#b3c8e8"/>
<rect x="1363.51" y="1769.59" width="43.1" height="13.72" fill="#88564b"/>
<rect x="1363.51" y="1783.3" width="43.1" height="74.3" fill="#d277b2"/>
<line x1="1363.51" y1="1478.12" x2="1406.61" y2="1478.12" stroke="#242424" stroke-width="0.9"/>
<line x1="1363.51" y1="1490.32" x2="1406.61" y2="1490.32" stroke="#242424" stroke-width="0.9"/>
<line x1="1363.51" y1="1546.32" x2="1406.61" y2="1546.32" stroke="#242424" stroke-width="0.9"/>
<line x1="1363.51" y1="1549.37" x2="1406.61" y2="1549.37" stroke="#242424" stroke-width="0.9"/>
<line x1="1363.51" y1="1769.59" x2="1406.61" y2="1769.59" stroke="#242424" stroke-width="0.9"/>
<line x1="1363.51" y1="1783.3" x2="1406.61" y2="1783.3" stroke="#242424" stroke-width="0.9"/>
<rect x="1363.51" y="1476.6" width="43.1" height="381" fill="none" stroke="#242424" stroke-width="0.9"/>
</g>
<g>
<rect x="1411.38" y="1476.6" width="43.1" height="2.29" fill="#c2bf33"/>
<rect x="1411.38" y="1478.89" width="43.1" height="1.14" fill="#1a1a1a"/>
<rect x="1411.38" y="1480.03" width="43.1" height="12.95" fill="#9366ac"/>
<rect x="1411.38" y="1492.98" width="43.1" height="47.62" fill="#c6c6c6"/>
<rect x="1411.38" y="1540.61" width="43.1" height="1.9" fill="#d33428"/>
<rect x="1411.38" y="1542.51" width="43.1" height="5.33" fill="#b4d98e"/>
<rect x="1411.38" y="1547.85" width="43.1" height="1.52" fill="#2fae49"/>
<rect x="1411.38" y="1549.37" width="43.1" height="134.11" fill="#b3c8e8"/>
<rect x="1411.38" y="1683.48" width="43.1" height="24" fill="#88564b"/>
<rect x="1411.38" y="1707.49" width="43.1" height="150.11" fill="#d277b2"/>
<line x1="1411.38" y1="1478.89" x2="1454.48" y2="1478.89" stroke="#242424" stroke-width="0.9"/>
<line x1="1411.38" y1="1480.03" x2="1454.48" y2="1480.03" stroke="#242424" stroke-width="0.9"/>
<line x1="1411.38" y1="1492.98" x2="1454.48" y2="1492.98" stroke="#242424" stroke-width="0.9"/>
<line x1="1411.38" y1="1540.61" x2="1454.48" y2="1540.61" stroke="#242424" stroke-width="0.9"/>
<line x1="1411.38" y1="1542.51" x2="1454.48" y2="1542.51" stroke="#242424" stroke-width="0.9"/>
<line x1="1411.38" y1="1547.85" x2="1454.48" y2="1547.85" stroke="#242424" stroke-width="0.9"/>
<line x1="1411.38" y1="1549.37" x2="1454.48" y2="1549.37" stroke="#242424" stroke-width="0.9"/>
<line x1="1411.38" y1="1683.48" x2="1454.48" y2="1683.48" stroke="#242424" stroke-width="0.9"/>
<line x1="1411.38" y1="1707.49" x2="1454.48" y2="1707.49" stroke="#242424" stroke-width="0.9"/>
<rect x="1411.38" y="1476.6" width="43.1" height="381" fill="none" stroke="#242424" stroke-width="0.9"/>
</g>
<g>
<rect x="1459.25" y="1476.6" width="43.1" height="1.9" fill="#3a3a3a"/>
<rect x="1459.25" y="1478.5" width="43.1" height="3.81" fill="#9366ac"/>
<rect x="1459.25" y="1482.31" width="43.1" height="30.48" fill="#c6c6c6"/>
<rect x="1459.25" y="1512.79" width="43.1" height="8" fill="#b4d98e"/>
<rect x="1459.25" y="1520.8" width="43.1" height="1.91" fill="#f2831f"/>
<rect x="1459.25" y="1522.7" width="43.1" height="251.08" fill="#b3c8e8"/>
<rect x="1459.25" y="1773.78" width="43.1" height="21.72" fill="#88564b"/>
<rect x="1459.25" y="1795.5" width="43.1" height="62.1" fill="#d277b2"/>
<line x1="1459.25" y1="1478.5" x2="1502.35" y2="1478.5" stroke="#242424" stroke-width="0.9"/>
<line x1="1459.25" y1="1482.31" x2="1502.35" y2="1482.31" stroke="#242424" stroke-width="0.9"/>
<line x1="1459.25" y1="1512.79" x2="1502.35" y2="1512.79" stroke="#242424" stroke-width="0.9"/>
<line x1="1459.25" y1="1520.8" x2="1502.35" y2="1520.8" stroke="#242424" stroke-width="0.9"/>
<line x1="1459.25" y1="1522.7" x2="1502.35" y2="1522.7" stroke="#242424" stroke-width="0.9"/>
<line x1="1459.25" y1="1773.78" x2="1502.35" y2="1773.78" stroke="#242424" stroke-width="0.9"/>
<line x1="1459.25" y1="1795.5" x2="1502.35" y2="1795.5" stroke="#242424" stroke-width="0.9"/>
<rect x="1459.25" y="1476.6" width="43.1" height="381" fill="none" stroke="#242424" stroke-width="0.9"/>
</g>
<g>
<rect x="1507.12" y="1476.6" width="43.1" height="1.9" fill="#c2bf33"/>
<rect x="1507.12" y="1478.5" width="43.1" height="3.05" fill="#ccb2d7"/>
<rect x="1507.12" y="1481.55" width="43.1" height="18.67" fill="#9366ac"/>
<rect x="1507.12" y="1500.22" width="43.1" height="69.34" fill="#c6c6c6"/>
<rect x="1507.12" y="1569.56" width="43.1" height="4.57" fill="#b4d98e"/>
<rect x="1507.12" y="1574.14" width="43.1" height="3.81" fill="#2fae49"/>
<rect x="1507.12" y="1577.95" width="43.1" height="2.29" fill="#f9be84"/>
<rect x="1507.12" y="1580.23" width="43.1" height="104.01" fill="#b3c8e8"/>
<rect x="1507.12" y="1684.24" width="43.1" height="42.29" fill="#88564b"/>
<rect x="1507.12" y="1726.54" width="43.1" height="131.06" fill="#d277b2"/>
<line x1="1507.12" y1="1478.5" x2="1550.22" y2="1478.5" stroke="#242424" stroke-width="0.9"/>
<line x1="1507.12" y1="1481.55" x2="1550.22" y2="1481.55" stroke="#242424" stroke-width="0.9"/>
<line x1="1507.12" y1="1500.22" x2="1550.22" y2="1500.22" stroke="#242424" stroke-width="0.9"/>
<line x1="1507.12" y1="1569.56" x2="1550.22" y2="1569.56" stroke="#242424" stroke-width="0.9"/>
<line x1="1507.12" y1="1574.14" x2="1550.22" y2="1574.14" stroke="#242424" stroke-width="0.9"/>
<line x1="1507.12" y1="1577.95" x2="1550.22" y2="1577.95" stroke="#242424" stroke-width="0.9"/>
<line x1="1507.12" y1="1580.23" x2="1550.22" y2="1580.23" stroke="#242424" stroke-width="0.9"/>
<line x1="1507.12" y1="1684.24" x2="1550.22" y2="1684.24" stroke="#242424" stroke-width="0.9"/>
<line x1="1507.12" y1="1726.54" x2="1550.22" y2="1726.54" stroke="#242424" stroke-width="0.9"/>
<rect x="1507.12" y="1476.6" width="43.1" height="381" fill="none" stroke="#242424" stroke-width="0.9"/>
</g>
<line x1="1220.5" y1="1457.4" x2="1220.5" y2="1860.6" stroke="#222" stroke-width="1.5"/>
<line x1="1216.5" y1="1457.8" x2="1220.5" y2="1457.8" stroke="#222" stroke-width="1.3"/>
<line x1="1216" y1="1857.6" x2="1551.5" y2="1857.6" stroke="#222" stroke-width="1.5"/>
<line x1="1551.5" y1="1857.6" x2="1551.5" y2="1861.1" stroke="#222" stroke-width="1.3"/>
<line x1="1241.45" y1="1857.6" x2="1241.45" y2="1861.1" stroke="#555" stroke-width="1.2"/>
<line x1="1289.32" y1="1857.6" x2="1289.32" y2="1861.1" stroke="#555" stroke-width="1.2"/>
<line x1="1337.19" y1="1857.6" x2="1337.19" y2="1861.1" stroke="#555" stroke-width="1.2"/>
<line x1="1385.06" y1="1857.6" x2="1385.06" y2="1861.1" stroke="#555" stroke-width="1.2"/>
<line x1="1432.93" y1="1857.6" x2="1432.93" y2="1861.1" stroke="#555" stroke-width="1.2"/>
<line x1="1480.8" y1="1857.6" x2="1480.8" y2="1861.1" stroke="#555" stroke-width="1.2"/>
<line x1="1528.67" y1="1857.6" x2="1528.67" y2="1861.1" stroke="#555" stroke-width="1.2"/>
<line x1="1216" y1="1857.6" x2="1220.5" y2="1857.6" stroke="#222" stroke-width="1.3"/>
<text x="1209.3" y="1863.1" font-size="22" text-anchor="end">0</text>
<line x1="1216" y1="1819.5" x2="1220.5" y2="1819.5" stroke="#222" stroke-width="1.3"/>
<text x="1209.3" y="1825" font-size="22" text-anchor="end">10</text>
<line x1="1216" y1="1781.4" x2="1220.5" y2="1781.4" stroke="#222" stroke-width="1.3"/>
<text x="1209.3" y="1786.9" font-size="22" text-anchor="end">20</text>
<line x1="1216" y1="1743.3" x2="1220.5" y2="1743.3" stroke="#222" stroke-width="1.3"/>
<text x="1209.3" y="1748.8" font-size="22" text-anchor="end">30</text>
<line x1="1216" y1="1705.2" x2="1220.5" y2="1705.2" stroke="#222" stroke-width="1.3"/>
<text x="1209.3" y="1710.7" font-size="22" text-anchor="end">40</text>
<line x1="1216" y1="1667.1" x2="1220.5" y2="1667.1" stroke="#222" stroke-width="1.3"/>
<text x="1209.3" y="1672.6" font-size="22" text-anchor="end">50</text>
<line x1="1216" y1="1629" x2="1220.5" y2="1629" stroke="#222" stroke-width="1.3"/>
<text x="1209.3" y="1634.5" font-size="22" text-anchor="end">60</text>
<line x1="1216" y1="1590.9" x2="1220.5" y2="1590.9" stroke="#222" stroke-width="1.3"/>
<text x="1209.3" y="1596.4" font-size="22" text-anchor="end">70</text>
<line x1="1216" y1="1552.8" x2="1220.5" y2="1552.8" stroke="#222" stroke-width="1.3"/>
<text x="1209.3" y="1558.3" font-size="22" text-anchor="end">80</text>
<line x1="1216" y1="1514.7" x2="1220.5" y2="1514.7" stroke="#222" stroke-width="1.3"/>
<text x="1209.3" y="1520.2" font-size="22" text-anchor="end">90</text>
<line x1="1216" y1="1476.6" x2="1220.5" y2="1476.6" stroke="#222" stroke-width="1.3"/>
<text x="1209.3" y="1482.1" font-size="22" text-anchor="end">100</text>
<text x="0" y="0" font-size="29.5" textLength="417" lengthAdjust="spacingAndGlyphs" transform="translate(1168.7 1654.5) rotate(-90)" fill="#111">Relative abundance (% of total reads)</text>
<text x="1240.4" y="1887.9" font-size="22" text-anchor="middle" transform="rotate(45 1240.4 1880.2)" fill="#111">14</text>
<text x="1287" y="1884.4" font-size="22" text-anchor="middle" transform="rotate(45 1287 1876.7)" fill="#111">2</text>
<text x="1336.1" y="1884.4" font-size="22" text-anchor="middle" transform="rotate(45 1336.1 1876.7)" fill="#111">4</text>
<text x="1383.9" y="1884.4" font-size="22" text-anchor="middle" transform="rotate(45 1383.9 1876.7)" fill="#111">5</text>
<text x="1431.7" y="1884.4" font-size="22" text-anchor="middle" transform="rotate(45 1431.7 1876.7)" fill="#111">6</text>
<text x="1485.7" y="1887.9" font-size="22" text-anchor="middle" transform="rotate(45 1485.7 1880.2)" fill="#111">11</text>
<text x="1533.5" y="1887.9" font-size="22" text-anchor="middle" transform="rotate(45 1533.5 1880.2)" fill="#111">13</text>
<text x="1319.79" y="1911.3" font-size="27.5" textLength="130.24" lengthAdjust="spacingAndGlyphs">Push Core</text>
<text x="1569.57" y="1181.3" font-size="25.5" font-weight="bold" textLength="283.66" lengthAdjust="spacingAndGlyphs">Labyrinthulomycetes</text>
<text x="1569.18" y="1206.9" font-size="21.5" font-weight="bold" textLength="175.99" lengthAdjust="spacingAndGlyphs">(Labyrinthulea)</text>
<text x="1591.2" y="1247.9" font-size="25" font-weight="bold">*</text>
<circle cx="1575.6" cy="1258.1" r="7.3" fill="#f9be84" stroke="#a0a0a0" stroke-width="0.8"/>
<text x="1588.36" y="1264.7" font-size="21" textLength="162.73" lengthAdjust="spacingAndGlyphs">Labyrinthulales</text>
<circle cx="1575.6" cy="1282.8" r="7.3" fill="#2fae49" stroke="#a0a0a0" stroke-width="0.8"/>
<text x="1588.38" y="1291.9" font-size="21" textLength="173.16" lengthAdjust="spacingAndGlyphs">Labyrinthulea_X</text>
<circle cx="1575.6" cy="1307" r="7.3" fill="#d33428" stroke="#a0a0a0" stroke-width="0.8"/>
<text x="1589.82" y="1315.6" font-size="21" textLength="195.72" lengthAdjust="spacingAndGlyphs">Thraustochytriales</text>
<text x="1569.67" y="1463.3" font-size="25.5" font-weight="bold" textLength="71.06" lengthAdjust="spacingAndGlyphs">MAST</text>
<text x="1590.9" y="1488" font-size="22">MAST-X</text>
<circle cx="1580.2" cy="1504.22" r="6.9" fill="#d277b2" stroke="#a0a0a0" stroke-width="0.8"/>
<text x="1590.9" y="1511.92" font-size="22">MAST-1</text>
<text x="1590.9" y="1535.84" font-size="22">MAST-2</text>
<circle cx="1580.2" cy="1552.06" r="6.9" fill="#88564b" stroke="#a0a0a0" stroke-width="0.8"/>
<text x="1590.9" y="1559.76" font-size="22">MAST-3</text>
<circle cx="1580.2" cy="1575.98" r="6.9" fill="#2f7bbb" stroke="#a0a0a0" stroke-width="0.8"/>
<text x="1590.9" y="1583.68" font-size="22">MAST-4</text>
<circle cx="1580.2" cy="1599.9" r="6.9" fill="#b3c8e8" stroke="#a0a0a0" stroke-width="0.8"/>
<text x="1590.9" y="1607.6" font-size="22">MAST-6</text>
<circle cx="1580.2" cy="1623.82" r="6.9" fill="#f2831f" stroke="#a0a0a0" stroke-width="0.8"/>
<text x="1590.9" y="1631.52" font-size="22">MAST-7</text>
<circle cx="1580.2" cy="1647.74" r="6.9" fill="#f9be84" stroke="#a0a0a0" stroke-width="0.8"/>
<text x="1590.9" y="1655.44" font-size="22">MAST-8</text>
<circle cx="1580.2" cy="1671.66" r="6.9" fill="#2fae49" stroke="#a0a0a0" stroke-width="0.8"/>
<text x="1590.9" y="1679.36" font-size="22">MAST-9</text>
<circle cx="1580.2" cy="1695.58" r="6.9" fill="#b4d98e" stroke="#a0a0a0" stroke-width="0.8"/>
<text x="1590.9" y="1703.28" font-size="22">MAST-10</text>
<circle cx="1580.2" cy="1719.5" r="6.9" fill="#d33428" stroke="#a0a0a0" stroke-width="0.8"/>
<text x="1590.9" y="1727.2" font-size="22">MAST-11</text>
<circle cx="1580.2" cy="1743.42" r="6.9" fill="#c6c6c6" stroke="#a0a0a0" stroke-width="0.8"/>
<text x="1590.9" y="1751.12" font-size="22">MAST-12</text>
<text x="1590.9" y="1775.04" font-size="22">MAST-16</text>
<circle cx="1580.2" cy="1791.26" r="6.9" fill="#9366ac" stroke="#a0a0a0" stroke-width="0.8"/>
<text x="1590.9" y="1798.96" font-size="22">MAST-20</text>
<circle cx="1580.2" cy="1815.18" r="6.9" fill="#ccb2d7" stroke="#a0a0a0" stroke-width="0.8"/>
<text x="1590.9" y="1822.88" font-size="22">MAST-22</text>
<circle cx="1580.2" cy="1839.1" r="6.9" fill="#61c6d5" stroke="#a0a0a0" stroke-width="0.8"/>
<text x="1590.9" y="1846.8" font-size="22">MAST-23</text>
<circle cx="1580.2" cy="1863.02" r="6.9" fill="#c2bf33" stroke="#a0a0a0" stroke-width="0.8"/>
<text x="1590.9" y="1870.72" font-size="22">MAST-24</text>
<defs><linearGradient id="ag" gradientUnits="userSpaceOnUse" x1="950" y1="0" x2="1114" y2="0"><stop offset="0" stop-color="#1c1c1c"/><stop offset="0.45" stop-color="#6d6d6d"/><stop offset="0.75" stop-color="#b0b0b0"/><stop offset="1" stop-color="#f2f2f2"/></linearGradient></defs>
<path fill="url(#ag)" d="M949.6,1352.8 C958,1346 965,1338 973,1335.1 C990,1334 1005,1333 1018.5,1326.9 C1035,1318 1048,1311 1062.7,1307.9 L1050.7,1292.1 C1075,1293 1100,1300 1113.3,1309.2 C1095,1318 1078,1335 1066.5,1352.2 L1065.9,1331.9 C1050,1336 1035,1345 1018.5,1352.2 C1005,1357 995,1359 986.9,1358.5 C975,1358 962,1356 949.6,1352.8 Z"/>
<path fill="url(#ag)" d="M949.6,1414.1 C962,1410 975,1408 986.9,1408.4 C998,1409 1008,1412 1018.5,1416.6 C1035,1424 1050,1432 1064.6,1435 L1066.5,1415.4 C1078,1432 1095,1448 1113.3,1457.1 C1100,1466 1075,1473 1050.7,1474.2 L1062.7,1459.6 C1048,1456 1035,1451 1024.8,1445.7 C1015,1440 1008,1435 999.5,1433.1 C990,1431.5 980,1431.5 972.4,1431.8 C965,1425 958,1418 949.6,1414.1 Z"/></svg></body></html>
